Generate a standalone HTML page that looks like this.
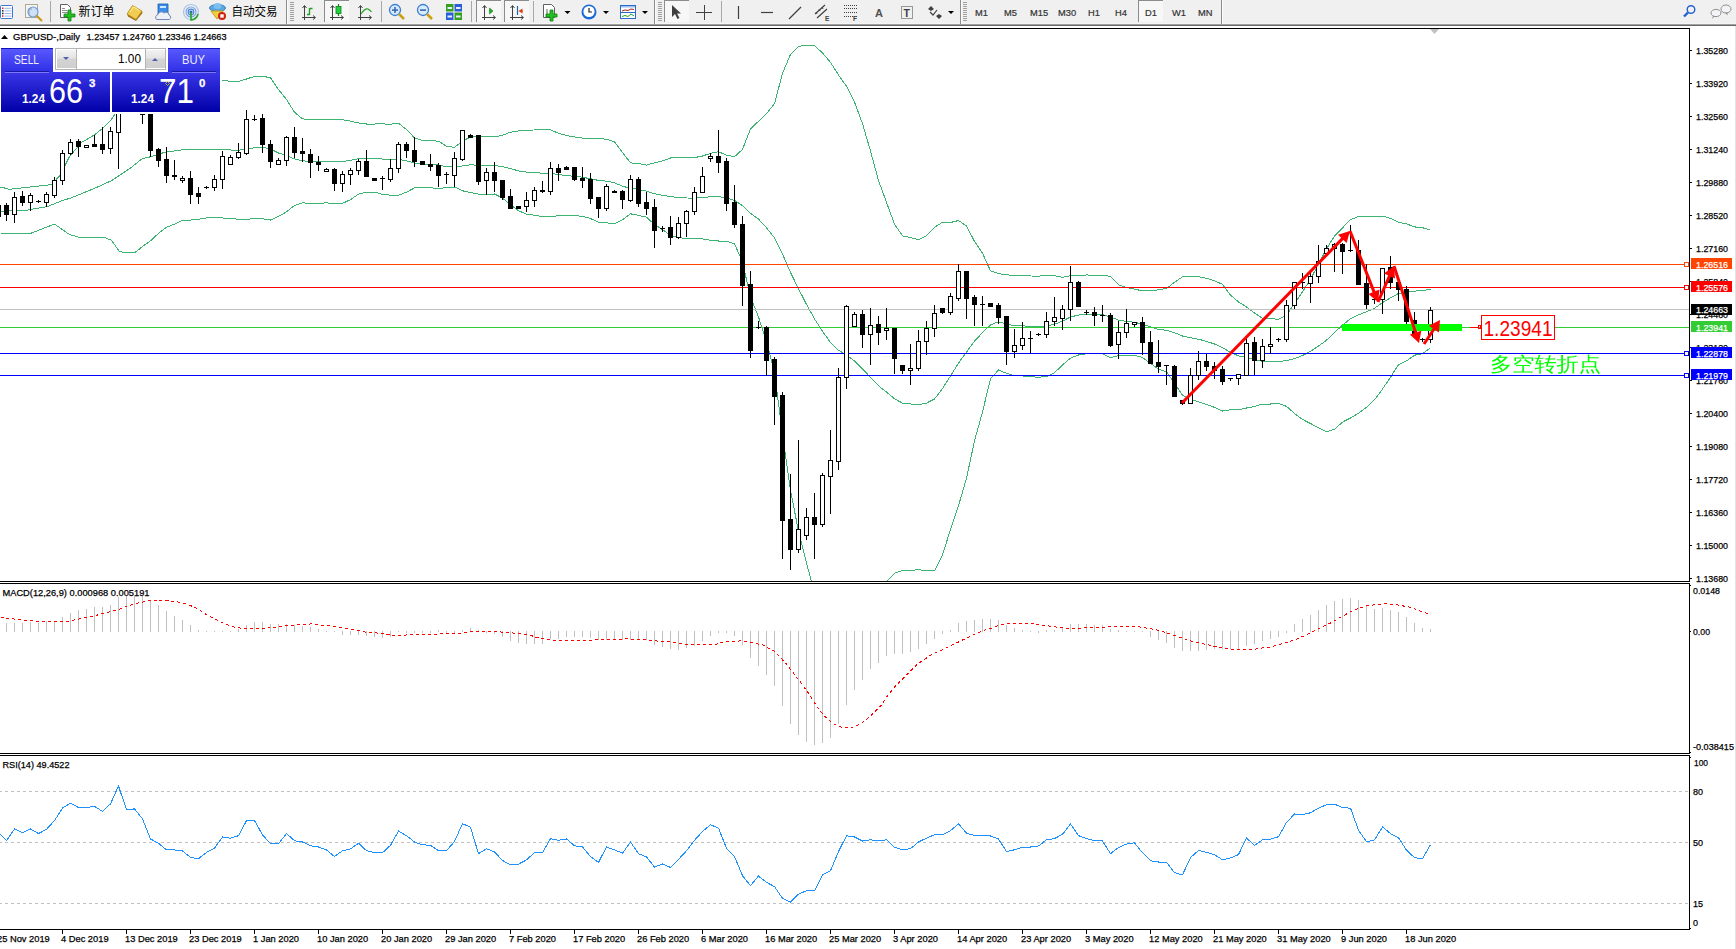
<!DOCTYPE html>
<html><head><meta charset="utf-8"><style>
html,body{margin:0;padding:0;background:#fff;}
body{width:1736px;height:949px;overflow:hidden;position:relative;font-family:"Liberation Sans", "Noto Sans CJK SC", sans-serif;}
svg{position:absolute;left:0;top:0;font-family:"Liberation Sans", "Noto Sans CJK SC", sans-serif;}
</style></head><body>
<svg width="1736" height="949" viewBox="0 0 1736 949">
<defs><clipPath id="clipMain"><rect x="0" y="29" width="1689" height="552"/></clipPath>
<clipPath id="clipRsi"><rect x="0" y="756" width="1689" height="173"/></clipPath></defs>
<rect x="0" y="0" width="1736" height="949" fill="#fff"/>
<g shape-rendering="crispEdges">
<rect x="0" y="28" width="1690" height="1" fill="#000" />
<rect x="0" y="581" width="1690" height="1" fill="#000" />
<rect x="1689" y="28" width="1" height="554" fill="#000" />
<rect x="0" y="583" width="1690" height="1" fill="#000" />
<rect x="0" y="753" width="1690" height="1" fill="#000" />
<rect x="1689" y="583" width="1" height="171" fill="#000" />
<rect x="0" y="755" width="1690" height="1" fill="#000" />
<rect x="0" y="929" width="1690" height="1" fill="#000" />
<rect x="1689" y="755" width="1" height="175" fill="#000" />
<rect x="1735" y="26" width="1" height="923" fill="#e3e3e3" />
</g>
<g clip-path="url(#clipMain)" shape-rendering="crispEdges">
<polyline points="0.5,187.0 9.5,189.3 30.5,187.0 51.5,184.6 60.5,174.9 69.5,156.4 81.5,142.5 93.5,135.5 102.5,128.5 111.5,119.3 115.5,113.5 125.5,95.5 140.5,78.5 150.5,72.8 158.5,74.6 166.5,76.8 174.5,77.8 182.5,79.3 190.5,79.4 198.5,79.8 206.5,80.3 214.5,80.4 222.5,80.5 230.5,81.2 238.5,81.5 246.5,79.0 254.5,76.4 262.5,76.2 270.5,77.8 278.5,89.6 286.5,99.4 294.5,112.3 302.5,118.8 310.5,119.7 318.5,119.9 326.5,119.9 334.5,119.7 342.5,119.7 350.5,121.1 358.5,123.0 366.5,124.0 374.5,124.0 382.5,123.9 390.5,124.2 398.5,123.3 406.5,129.5 414.5,137.9 422.5,140.5 430.5,140.8 438.5,141.1 446.5,146.2 454.5,147.3 462.5,141.2 470.5,136.9 478.5,136.8 486.5,136.8 494.5,137.0 502.5,135.2 510.5,132.2 518.5,130.9 526.5,130.1 534.5,130.0 542.5,129.9 550.5,129.9 558.5,133.3 566.5,135.5 574.5,137.0 582.5,138.1 590.5,139.0 598.5,138.6 606.5,139.2 614.5,141.9 622.5,152.5 630.5,162.9 638.5,163.4 646.5,165.1 654.5,162.8 662.5,160.8 670.5,158.0 678.5,157.3 686.5,157.4 694.5,157.6 702.5,156.0 710.5,153.4 718.5,151.7 726.5,155.1 734.5,156.7 742.5,149.4 750.5,128.9 758.5,121.3 766.5,113.7 774.5,103.6 782.5,73.4 790.5,54.3 798.5,46.3 806.5,45.4 814.5,45.5 822.5,53.0 830.5,62.3 838.5,75.0 846.5,86.3 854.5,102.0 862.5,123.6 870.5,151.0 878.5,180.5 886.5,202.4 894.5,224.2 902.5,235.8 910.5,237.7 918.5,239.6 926.5,235.8 934.5,227.2 942.5,222.3 950.5,222.5 958.5,220.5 966.5,226.0 974.5,241.4 982.5,253.2 990.5,270.9 998.5,273.6 1006.5,274.8 1014.5,275.6 1022.5,275.7 1030.5,276.0 1038.5,276.1 1046.5,275.7 1054.5,275.7 1062.5,277.4 1070.5,275.7 1078.5,275.3 1086.5,275.0 1094.5,275.1 1102.5,275.3 1110.5,276.4 1118.5,284.7 1126.5,287.4 1134.5,289.1 1142.5,290.9 1150.5,290.8 1158.5,289.8 1166.5,288.5 1174.5,282.3 1182.5,276.8 1190.5,276.1 1198.5,276.6 1206.5,278.3 1214.5,280.7 1222.5,284.3 1230.5,295.1 1238.5,302.0 1246.5,306.9 1254.5,312.9 1262.5,318.5 1270.5,318.4 1278.5,319.5 1286.5,314.9 1294.5,303.8 1302.5,291.9 1310.5,279.1 1318.5,264.3 1326.5,248.8 1334.5,236.0 1342.5,227.9 1350.5,219.5 1358.5,216.6 1366.5,216.4 1374.5,216.7 1382.5,216.1 1390.5,218.3 1398.5,222.4 1406.5,223.8 1414.5,226.9 1422.5,227.7 1430.5,230.2" fill="none" stroke="#3cb371" stroke-width="1" />
<polyline points="0.5,211.1 25.5,210.6 35.5,208.6 47.5,206.5 62.5,200.5 70.5,198.1 93.5,188.8 111.5,180.7 130.5,168.0 142.5,158.5 150.5,156.8 158.5,154.0 166.5,152.0 174.5,151.0 182.5,149.8 190.5,149.7 198.5,149.5 206.5,149.1 214.5,149.1 222.5,149.2 230.5,150.0 238.5,150.3 246.5,149.0 254.5,147.7 262.5,147.4 270.5,148.9 278.5,153.0 286.5,155.6 294.5,158.9 302.5,160.8 310.5,161.5 318.5,161.7 326.5,161.4 334.5,161.7 342.5,161.5 350.5,160.4 358.5,158.6 366.5,158.0 374.5,158.0 382.5,159.1 390.5,159.7 398.5,159.3 406.5,160.9 414.5,162.9 422.5,164.0 430.5,164.2 438.5,165.0 446.5,166.8 454.5,167.1 462.5,166.0 470.5,164.7 478.5,165.5 486.5,165.7 494.5,165.5 502.5,166.7 510.5,168.5 518.5,170.9 526.5,172.1 534.5,172.6 542.5,173.2 550.5,173.2 558.5,174.6 566.5,175.5 574.5,176.4 582.5,177.2 590.5,178.8 598.5,180.4 606.5,181.1 614.5,182.8 622.5,186.2 630.5,188.3 638.5,189.4 646.5,191.2 654.5,193.7 662.5,195.2 670.5,196.7 678.5,197.5 686.5,198.0 694.5,198.1 702.5,197.4 710.5,196.8 718.5,196.4 726.5,198.1 734.5,200.3 742.5,205.6 750.5,213.2 758.5,219.1 766.5,227.8 774.5,237.9 782.5,254.0 790.5,272.4 798.5,288.8 806.5,304.3 814.5,318.9 822.5,331.3 830.5,342.5 838.5,350.2 846.5,354.9 854.5,361.0 862.5,368.9 870.5,377.4 878.5,385.8 886.5,392.1 894.5,398.8 902.5,403.1 910.5,404.0 918.5,404.7 926.5,403.1 934.5,399.0 942.5,388.6 950.5,376.0 958.5,363.1 966.5,352.1 974.5,341.1 982.5,332.6 990.5,324.9 998.5,321.8 1006.5,324.1 1014.5,325.6 1022.5,325.8 1030.5,326.4 1038.5,326.6 1046.5,326.2 1054.5,324.2 1062.5,321.2 1070.5,316.9 1078.5,315.1 1086.5,314.3 1094.5,314.4 1102.5,314.6 1110.5,317.0 1118.5,320.1 1126.5,321.4 1134.5,322.3 1142.5,324.2 1150.5,327.0 1158.5,329.5 1166.5,330.2 1174.5,332.7 1182.5,336.0 1190.5,337.8 1198.5,339.2 1206.5,341.4 1214.5,344.0 1222.5,347.6 1230.5,352.4 1238.5,355.9 1246.5,357.4 1254.5,359.7 1262.5,361.2 1270.5,361.2 1278.5,361.5 1286.5,360.6 1294.5,358.6 1302.5,355.6 1310.5,351.3 1318.5,346.1 1326.5,340.2 1334.5,332.6 1342.5,325.0 1350.5,318.8 1358.5,314.9 1366.5,311.8 1374.5,308.3 1382.5,302.6 1390.5,297.8 1398.5,293.5 1406.5,292.4 1414.5,291.1 1422.5,290.7 1430.5,289.0" fill="none" stroke="#3cb371" stroke-width="1" />
<polyline points="0.5,233.0 31.5,233.0 54.5,224.1 69.5,234.5 78.5,237.1 91.5,237.6 105.5,237.9 111.5,240.2 119.5,251.8 134.5,252.9 142.5,246.5 150.5,240.8 158.5,233.4 166.5,227.2 174.5,224.2 182.5,220.3 190.5,220.1 198.5,219.2 206.5,217.9 214.5,217.8 222.5,218.0 230.5,218.8 238.5,219.1 246.5,219.1 254.5,218.9 262.5,218.7 270.5,220.0 278.5,216.5 286.5,211.8 294.5,205.4 302.5,202.9 310.5,203.2 318.5,203.5 326.5,202.8 334.5,203.8 342.5,203.4 350.5,199.6 358.5,194.1 366.5,192.1 374.5,192.1 382.5,194.4 390.5,195.2 398.5,195.3 406.5,192.2 414.5,187.9 422.5,187.4 430.5,187.7 438.5,188.8 446.5,187.4 454.5,187.0 462.5,190.8 470.5,192.5 478.5,194.2 486.5,194.5 494.5,194.0 502.5,198.1 510.5,204.8 518.5,210.8 526.5,214.1 534.5,215.3 542.5,216.5 550.5,216.5 558.5,215.8 566.5,215.4 574.5,215.8 582.5,216.2 590.5,218.5 598.5,222.3 606.5,222.9 614.5,223.6 622.5,219.9 630.5,213.8 638.5,215.4 646.5,217.2 654.5,224.5 662.5,229.6 670.5,235.3 678.5,237.6 686.5,238.6 694.5,238.6 702.5,238.9 710.5,240.3 718.5,241.0 726.5,241.0 734.5,243.9 742.5,261.8 750.5,297.4 758.5,316.9 766.5,341.9 774.5,372.2 782.5,434.6 790.5,490.6 798.5,531.2 806.5,563.2 814.5,592.3 822.5,609.5 830.5,622.7 838.5,625.3 846.5,623.5 854.5,620.0 862.5,614.3 870.5,603.8 878.5,591.2 886.5,581.9 894.5,573.3 902.5,570.3 910.5,570.3 918.5,569.8 926.5,570.4 934.5,570.8 942.5,554.9 950.5,529.5 958.5,505.7 966.5,478.2 974.5,440.9 982.5,412.0 990.5,378.8 998.5,370.0 1006.5,373.3 1014.5,375.6 1022.5,375.9 1030.5,376.9 1038.5,377.1 1046.5,376.8 1054.5,372.7 1062.5,365.0 1070.5,358.1 1078.5,355.0 1086.5,353.7 1094.5,353.8 1102.5,353.9 1110.5,357.7 1118.5,355.5 1126.5,355.4 1134.5,355.4 1142.5,357.5 1150.5,363.3 1158.5,369.2 1166.5,371.9 1174.5,383.2 1182.5,395.2 1190.5,399.5 1198.5,401.7 1206.5,404.5 1214.5,407.4 1222.5,411.0 1230.5,409.8 1238.5,409.8 1246.5,408.0 1254.5,406.5 1262.5,404.0 1270.5,404.0 1278.5,403.5 1286.5,406.4 1294.5,413.4 1302.5,419.4 1310.5,423.5 1318.5,427.9 1326.5,431.7 1334.5,429.3 1342.5,422.1 1350.5,418.0 1358.5,413.2 1366.5,407.2 1374.5,399.8 1382.5,389.1 1390.5,377.2 1398.5,364.6 1406.5,360.9 1414.5,355.2 1422.5,353.7 1430.5,347.7" fill="none" stroke="#3cb371" stroke-width="1" />
</g>
<g shape-rendering="crispEdges">
<rect x="0" y="264" width="1684" height="1" fill="#ff4500" />
<rect x="1684.5" y="262.5" width="4" height="4" fill="none" stroke="#ff4500" stroke-width="1"/>
<rect x="0" y="287" width="1684" height="1" fill="#ff0000" />
<rect x="1684.5" y="285.5" width="4" height="4" fill="none" stroke="#ff0000" stroke-width="1"/>
<rect x="0" y="309" width="1689" height="1" fill="#c0c0c0" />
<rect x="0" y="327" width="1689" height="1" fill="#32cd32" />
<rect x="0" y="353" width="1684" height="1" fill="#0000ff" />
<rect x="1684.5" y="351.5" width="4" height="4" fill="none" stroke="#0000ff" stroke-width="1"/>
<rect x="0" y="375" width="1684" height="1" fill="#0000ff" />
<rect x="1684.5" y="373.5" width="4" height="4" fill="none" stroke="#0000ff" stroke-width="1"/>
</g>
<g shape-rendering="crispEdges">
<rect x="-2" y="203" width="1" height="18" fill="#000" />
<rect x="-4" y="205" width="5" height="12" fill="#000" />
<rect x="6" y="203" width="1" height="18" fill="#000" />
<rect x="4" y="205" width="5" height="10" fill="#000" />
<rect x="14" y="192" width="1" height="31" fill="#000" />
<rect x="12" y="197" width="5" height="18" fill="#000" />
<rect x="13" y="198" width="3" height="16" fill="#fff" />
<rect x="22" y="191" width="1" height="15" fill="#000" />
<rect x="20" y="196" width="5" height="7" fill="#000" />
<rect x="30" y="193" width="1" height="18" fill="#000" />
<rect x="28" y="195" width="5" height="8" fill="#000" />
<rect x="29" y="196" width="3" height="6" fill="#fff" />
<rect x="38" y="200" width="1" height="3" fill="#000" />
<rect x="36" y="201" width="5" height="1" fill="#000" />
<rect x="46" y="192" width="1" height="15" fill="#000" />
<rect x="44" y="194" width="5" height="9" fill="#000" />
<rect x="45" y="195" width="3" height="7" fill="#fff" />
<rect x="54" y="177" width="1" height="21" fill="#000" />
<rect x="52" y="180" width="5" height="16" fill="#000" />
<rect x="53" y="181" width="3" height="14" fill="#fff" />
<rect x="62" y="150" width="1" height="35" fill="#000" />
<rect x="60" y="153" width="5" height="28" fill="#000" />
<rect x="61" y="154" width="3" height="26" fill="#fff" />
<rect x="70" y="139" width="1" height="16" fill="#000" />
<rect x="68" y="142" width="5" height="12" fill="#000" />
<rect x="69" y="143" width="3" height="10" fill="#fff" />
<rect x="78" y="139" width="1" height="18" fill="#000" />
<rect x="76" y="141" width="5" height="6" fill="#000" />
<rect x="86" y="145" width="1" height="3" fill="#000" />
<rect x="84" y="145" width="5" height="3" fill="#000" />
<rect x="85" y="146" width="3" height="1" fill="#fff" />
<rect x="94" y="135" width="1" height="12" fill="#000" />
<rect x="92" y="144" width="5" height="3" fill="#000" />
<rect x="102" y="127" width="1" height="27" fill="#000" />
<rect x="100" y="144" width="5" height="6" fill="#000" />
<rect x="110" y="127" width="1" height="27" fill="#000" />
<rect x="108" y="131" width="5" height="18" fill="#000" />
<rect x="109" y="132" width="3" height="16" fill="#fff" />
<rect x="118" y="95" width="1" height="74" fill="#000" />
<rect x="116" y="100" width="5" height="33" fill="#000" />
<rect x="117" y="101" width="3" height="31" fill="#fff" />
<rect x="126" y="50" width="1" height="56" fill="#000" />
<rect x="124" y="80" width="5" height="21" fill="#000" />
<rect x="125" y="81" width="3" height="19" fill="#fff" />
<rect x="134" y="79" width="1" height="6" fill="#000" />
<rect x="132" y="80" width="5" height="3" fill="#000" />
<rect x="142" y="80" width="1" height="44" fill="#000" />
<rect x="140" y="84" width="5" height="31" fill="#000" />
<rect x="150" y="84" width="1" height="73" fill="#000" />
<rect x="148" y="86" width="5" height="65" fill="#000" />
<rect x="158" y="148" width="1" height="19" fill="#000" />
<rect x="156" y="149" width="5" height="12" fill="#000" />
<rect x="166" y="147" width="1" height="36" fill="#000" />
<rect x="164" y="159" width="5" height="17" fill="#000" />
<rect x="174" y="160" width="1" height="20" fill="#000" />
<rect x="172" y="175" width="5" height="2" fill="#000" />
<rect x="182" y="176" width="1" height="7" fill="#000" />
<rect x="180" y="178" width="5" height="3" fill="#000" />
<rect x="181" y="179" width="3" height="1" fill="#fff" />
<rect x="190" y="171" width="1" height="33" fill="#000" />
<rect x="188" y="178" width="5" height="17" fill="#000" />
<rect x="198" y="187" width="1" height="17" fill="#000" />
<rect x="196" y="193" width="5" height="4" fill="#000" />
<rect x="206" y="186" width="1" height="3" fill="#000" />
<rect x="204" y="187" width="5" height="1" fill="#000" />
<rect x="214" y="175" width="1" height="16" fill="#000" />
<rect x="212" y="179" width="5" height="9" fill="#000" />
<rect x="213" y="180" width="3" height="7" fill="#fff" />
<rect x="222" y="151" width="1" height="38" fill="#000" />
<rect x="220" y="156" width="5" height="24" fill="#000" />
<rect x="221" y="157" width="3" height="22" fill="#fff" />
<rect x="230" y="155" width="1" height="10" fill="#000" />
<rect x="228" y="157" width="5" height="8" fill="#000" />
<rect x="229" y="158" width="3" height="6" fill="#fff" />
<rect x="238" y="143" width="1" height="16" fill="#000" />
<rect x="236" y="152" width="5" height="6" fill="#000" />
<rect x="237" y="153" width="3" height="4" fill="#fff" />
<rect x="246" y="110" width="1" height="45" fill="#000" />
<rect x="244" y="119" width="5" height="35" fill="#000" />
<rect x="245" y="120" width="3" height="33" fill="#fff" />
<rect x="254" y="115" width="1" height="6" fill="#000" />
<rect x="252" y="119" width="5" height="1" fill="#000" />
<rect x="262" y="114" width="1" height="39" fill="#000" />
<rect x="260" y="118" width="5" height="27" fill="#000" />
<rect x="270" y="140" width="1" height="28" fill="#000" />
<rect x="268" y="144" width="5" height="18" fill="#000" />
<rect x="278" y="158" width="1" height="7" fill="#000" />
<rect x="276" y="160" width="5" height="5" fill="#000" />
<rect x="277" y="161" width="3" height="3" fill="#fff" />
<rect x="286" y="136" width="1" height="30" fill="#000" />
<rect x="284" y="137" width="5" height="24" fill="#000" />
<rect x="285" y="138" width="3" height="22" fill="#fff" />
<rect x="294" y="127" width="1" height="31" fill="#000" />
<rect x="292" y="137" width="5" height="16" fill="#000" />
<rect x="302" y="138" width="1" height="24" fill="#000" />
<rect x="300" y="151" width="5" height="3" fill="#000" />
<rect x="310" y="149" width="1" height="29" fill="#000" />
<rect x="308" y="154" width="5" height="9" fill="#000" />
<rect x="318" y="156" width="1" height="15" fill="#000" />
<rect x="316" y="162" width="5" height="3" fill="#000" />
<rect x="326" y="168" width="1" height="4" fill="#000" />
<rect x="324" y="169" width="5" height="3" fill="#000" />
<rect x="325" y="170" width="3" height="1" fill="#fff" />
<rect x="334" y="168" width="1" height="23" fill="#000" />
<rect x="332" y="169" width="5" height="15" fill="#000" />
<rect x="342" y="171" width="1" height="21" fill="#000" />
<rect x="340" y="174" width="5" height="10" fill="#000" />
<rect x="341" y="175" width="3" height="8" fill="#fff" />
<rect x="350" y="168" width="1" height="17" fill="#000" />
<rect x="348" y="170" width="5" height="5" fill="#000" />
<rect x="349" y="171" width="3" height="3" fill="#fff" />
<rect x="358" y="159" width="1" height="16" fill="#000" />
<rect x="356" y="161" width="5" height="10" fill="#000" />
<rect x="357" y="162" width="3" height="8" fill="#fff" />
<rect x="366" y="150" width="1" height="27" fill="#000" />
<rect x="364" y="161" width="5" height="16" fill="#000" />
<rect x="374" y="178" width="1" height="3" fill="#000" />
<rect x="372" y="178" width="5" height="3" fill="#000" />
<rect x="382" y="176" width="1" height="14" fill="#000" />
<rect x="380" y="178" width="5" height="1" fill="#000" />
<rect x="390" y="159" width="1" height="23" fill="#000" />
<rect x="388" y="168" width="5" height="12" fill="#000" />
<rect x="389" y="169" width="3" height="10" fill="#fff" />
<rect x="398" y="142" width="1" height="31" fill="#000" />
<rect x="396" y="144" width="5" height="25" fill="#000" />
<rect x="397" y="145" width="3" height="23" fill="#fff" />
<rect x="406" y="142" width="1" height="16" fill="#000" />
<rect x="404" y="144" width="5" height="7" fill="#000" />
<rect x="414" y="137" width="1" height="30" fill="#000" />
<rect x="412" y="150" width="5" height="12" fill="#000" />
<rect x="422" y="161" width="1" height="4" fill="#000" />
<rect x="420" y="161" width="5" height="4" fill="#000" />
<rect x="430" y="154" width="1" height="17" fill="#000" />
<rect x="428" y="164" width="5" height="3" fill="#000" />
<rect x="438" y="163" width="1" height="24" fill="#000" />
<rect x="436" y="165" width="5" height="11" fill="#000" />
<rect x="446" y="172" width="1" height="12" fill="#000" />
<rect x="444" y="174" width="5" height="1" fill="#000" />
<rect x="454" y="152" width="1" height="35" fill="#000" />
<rect x="452" y="158" width="5" height="18" fill="#000" />
<rect x="453" y="159" width="3" height="16" fill="#fff" />
<rect x="462" y="130" width="1" height="31" fill="#000" />
<rect x="460" y="130" width="5" height="30" fill="#000" />
<rect x="461" y="131" width="3" height="28" fill="#fff" />
<rect x="470" y="134" width="1" height="4" fill="#000" />
<rect x="468" y="135" width="5" height="3" fill="#000" />
<rect x="478" y="135" width="1" height="50" fill="#000" />
<rect x="476" y="135" width="5" height="47" fill="#000" />
<rect x="486" y="168" width="1" height="27" fill="#000" />
<rect x="484" y="172" width="5" height="9" fill="#000" />
<rect x="485" y="173" width="3" height="7" fill="#fff" />
<rect x="494" y="162" width="1" height="30" fill="#000" />
<rect x="492" y="172" width="5" height="9" fill="#000" />
<rect x="502" y="180" width="1" height="20" fill="#000" />
<rect x="500" y="180" width="5" height="18" fill="#000" />
<rect x="510" y="189" width="1" height="20" fill="#000" />
<rect x="508" y="196" width="5" height="13" fill="#000" />
<rect x="518" y="206" width="1" height="3" fill="#000" />
<rect x="516" y="206" width="5" height="3" fill="#000" />
<rect x="526" y="192" width="1" height="20" fill="#000" />
<rect x="524" y="200" width="5" height="7" fill="#000" />
<rect x="525" y="201" width="3" height="5" fill="#fff" />
<rect x="534" y="187" width="1" height="20" fill="#000" />
<rect x="532" y="190" width="5" height="11" fill="#000" />
<rect x="533" y="191" width="3" height="9" fill="#fff" />
<rect x="542" y="181" width="1" height="12" fill="#000" />
<rect x="540" y="190" width="5" height="2" fill="#000" />
<rect x="550" y="162" width="1" height="33" fill="#000" />
<rect x="548" y="168" width="5" height="24" fill="#000" />
<rect x="549" y="169" width="3" height="22" fill="#fff" />
<rect x="558" y="164" width="1" height="17" fill="#000" />
<rect x="556" y="168" width="5" height="5" fill="#000" />
<rect x="566" y="166" width="1" height="4" fill="#000" />
<rect x="564" y="167" width="5" height="3" fill="#000" />
<rect x="574" y="167" width="1" height="14" fill="#000" />
<rect x="572" y="167" width="5" height="13" fill="#000" />
<rect x="582" y="167" width="1" height="21" fill="#000" />
<rect x="580" y="178" width="5" height="3" fill="#000" />
<rect x="590" y="173" width="1" height="31" fill="#000" />
<rect x="588" y="179" width="5" height="20" fill="#000" />
<rect x="598" y="197" width="1" height="21" fill="#000" />
<rect x="596" y="197" width="5" height="12" fill="#000" />
<rect x="606" y="184" width="1" height="27" fill="#000" />
<rect x="604" y="186" width="5" height="23" fill="#000" />
<rect x="605" y="187" width="3" height="21" fill="#fff" />
<rect x="614" y="190" width="1" height="3" fill="#000" />
<rect x="612" y="191" width="5" height="2" fill="#000" />
<rect x="622" y="190" width="1" height="19" fill="#000" />
<rect x="620" y="191" width="5" height="9" fill="#000" />
<rect x="630" y="175" width="1" height="27" fill="#000" />
<rect x="628" y="179" width="5" height="22" fill="#000" />
<rect x="629" y="180" width="3" height="20" fill="#fff" />
<rect x="638" y="177" width="1" height="30" fill="#000" />
<rect x="636" y="179" width="5" height="25" fill="#000" />
<rect x="646" y="192" width="1" height="23" fill="#000" />
<rect x="644" y="202" width="5" height="7" fill="#000" />
<rect x="654" y="199" width="1" height="49" fill="#000" />
<rect x="652" y="207" width="5" height="24" fill="#000" />
<rect x="662" y="226" width="1" height="6" fill="#000" />
<rect x="660" y="228" width="5" height="1" fill="#000" />
<rect x="670" y="216" width="1" height="29" fill="#000" />
<rect x="668" y="227" width="5" height="11" fill="#000" />
<rect x="678" y="217" width="1" height="22" fill="#000" />
<rect x="676" y="223" width="5" height="15" fill="#000" />
<rect x="677" y="224" width="3" height="13" fill="#fff" />
<rect x="686" y="210" width="1" height="27" fill="#000" />
<rect x="684" y="211" width="5" height="13" fill="#000" />
<rect x="685" y="212" width="3" height="11" fill="#fff" />
<rect x="694" y="187" width="1" height="28" fill="#000" />
<rect x="692" y="192" width="5" height="20" fill="#000" />
<rect x="693" y="193" width="3" height="18" fill="#fff" />
<rect x="702" y="167" width="1" height="26" fill="#000" />
<rect x="700" y="176" width="5" height="17" fill="#000" />
<rect x="701" y="177" width="3" height="15" fill="#fff" />
<rect x="710" y="153" width="1" height="9" fill="#000" />
<rect x="708" y="156" width="5" height="3" fill="#000" />
<rect x="709" y="157" width="3" height="1" fill="#fff" />
<rect x="718" y="130" width="1" height="43" fill="#000" />
<rect x="716" y="156" width="5" height="7" fill="#000" />
<rect x="726" y="158" width="1" height="53" fill="#000" />
<rect x="724" y="161" width="5" height="43" fill="#000" />
<rect x="734" y="185" width="1" height="43" fill="#000" />
<rect x="732" y="202" width="5" height="23" fill="#000" />
<rect x="742" y="216" width="1" height="90" fill="#000" />
<rect x="740" y="224" width="5" height="62" fill="#000" />
<rect x="750" y="271" width="1" height="87" fill="#000" />
<rect x="748" y="284" width="5" height="67" fill="#000" />
<rect x="758" y="321" width="1" height="8" fill="#000" />
<rect x="756" y="327" width="5" height="1" fill="#000" />
<rect x="766" y="326" width="1" height="50" fill="#000" />
<rect x="764" y="327" width="5" height="34" fill="#000" />
<rect x="774" y="357" width="1" height="68" fill="#000" />
<rect x="772" y="359" width="5" height="38" fill="#000" />
<rect x="782" y="392" width="1" height="167" fill="#000" />
<rect x="780" y="395" width="5" height="126" fill="#000" />
<rect x="790" y="474" width="1" height="96" fill="#000" />
<rect x="788" y="519" width="5" height="31" fill="#000" />
<rect x="798" y="440" width="1" height="113" fill="#000" />
<rect x="796" y="529" width="5" height="21" fill="#000" />
<rect x="797" y="530" width="3" height="19" fill="#fff" />
<rect x="806" y="508" width="1" height="32" fill="#000" />
<rect x="804" y="517" width="5" height="19" fill="#000" />
<rect x="805" y="518" width="3" height="17" fill="#fff" />
<rect x="814" y="493" width="1" height="66" fill="#000" />
<rect x="812" y="517" width="5" height="8" fill="#000" />
<rect x="822" y="473" width="1" height="54" fill="#000" />
<rect x="820" y="475" width="5" height="50" fill="#000" />
<rect x="821" y="476" width="3" height="48" fill="#fff" />
<rect x="830" y="430" width="1" height="84" fill="#000" />
<rect x="828" y="460" width="5" height="17" fill="#000" />
<rect x="829" y="461" width="3" height="15" fill="#fff" />
<rect x="838" y="368" width="1" height="102" fill="#000" />
<rect x="836" y="377" width="5" height="85" fill="#000" />
<rect x="837" y="378" width="3" height="83" fill="#fff" />
<rect x="846" y="305" width="1" height="84" fill="#000" />
<rect x="844" y="306" width="5" height="72" fill="#000" />
<rect x="845" y="307" width="3" height="70" fill="#fff" />
<rect x="854" y="312" width="1" height="15" fill="#000" />
<rect x="852" y="314" width="5" height="13" fill="#000" />
<rect x="853" y="315" width="3" height="11" fill="#fff" />
<rect x="862" y="310" width="1" height="38" fill="#000" />
<rect x="860" y="314" width="5" height="21" fill="#000" />
<rect x="870" y="308" width="1" height="57" fill="#000" />
<rect x="868" y="325" width="5" height="10" fill="#000" />
<rect x="869" y="326" width="3" height="8" fill="#fff" />
<rect x="878" y="316" width="1" height="29" fill="#000" />
<rect x="876" y="324" width="5" height="9" fill="#000" />
<rect x="886" y="308" width="1" height="32" fill="#000" />
<rect x="884" y="328" width="5" height="3" fill="#000" />
<rect x="885" y="329" width="3" height="1" fill="#fff" />
<rect x="894" y="328" width="1" height="46" fill="#000" />
<rect x="892" y="328" width="5" height="31" fill="#000" />
<rect x="902" y="365" width="1" height="9" fill="#000" />
<rect x="900" y="365" width="5" height="6" fill="#000" />
<rect x="910" y="344" width="1" height="41" fill="#000" />
<rect x="908" y="368" width="5" height="3" fill="#000" />
<rect x="909" y="369" width="3" height="1" fill="#fff" />
<rect x="918" y="330" width="1" height="41" fill="#000" />
<rect x="916" y="341" width="5" height="28" fill="#000" />
<rect x="917" y="342" width="3" height="26" fill="#fff" />
<rect x="926" y="321" width="1" height="34" fill="#000" />
<rect x="924" y="328" width="5" height="14" fill="#000" />
<rect x="925" y="329" width="3" height="12" fill="#fff" />
<rect x="934" y="305" width="1" height="32" fill="#000" />
<rect x="932" y="313" width="5" height="16" fill="#000" />
<rect x="933" y="314" width="3" height="14" fill="#fff" />
<rect x="942" y="308" width="1" height="6" fill="#000" />
<rect x="940" y="308" width="5" height="5" fill="#000" />
<rect x="950" y="293" width="1" height="22" fill="#000" />
<rect x="948" y="296" width="5" height="17" fill="#000" />
<rect x="949" y="297" width="3" height="15" fill="#fff" />
<rect x="958" y="264" width="1" height="37" fill="#000" />
<rect x="956" y="271" width="5" height="28" fill="#000" />
<rect x="957" y="272" width="3" height="26" fill="#fff" />
<rect x="966" y="271" width="1" height="48" fill="#000" />
<rect x="964" y="271" width="5" height="28" fill="#000" />
<rect x="974" y="295" width="1" height="31" fill="#000" />
<rect x="972" y="297" width="5" height="8" fill="#000" />
<rect x="982" y="296" width="1" height="30" fill="#000" />
<rect x="980" y="304" width="5" height="1" fill="#000" />
<rect x="990" y="303" width="1" height="4" fill="#000" />
<rect x="988" y="303" width="5" height="4" fill="#000" />
<rect x="998" y="303" width="1" height="21" fill="#000" />
<rect x="996" y="305" width="5" height="13" fill="#000" />
<rect x="1006" y="316" width="1" height="49" fill="#000" />
<rect x="1004" y="316" width="5" height="36" fill="#000" />
<rect x="1014" y="329" width="1" height="29" fill="#000" />
<rect x="1012" y="345" width="5" height="7" fill="#000" />
<rect x="1013" y="346" width="3" height="5" fill="#fff" />
<rect x="1022" y="322" width="1" height="28" fill="#000" />
<rect x="1020" y="338" width="5" height="8" fill="#000" />
<rect x="1021" y="339" width="3" height="6" fill="#fff" />
<rect x="1030" y="331" width="1" height="22" fill="#000" />
<rect x="1028" y="338" width="5" height="1" fill="#000" />
<rect x="1038" y="333" width="1" height="3" fill="#000" />
<rect x="1036" y="334" width="5" height="1" fill="#000" />
<rect x="1046" y="312" width="1" height="26" fill="#000" />
<rect x="1044" y="321" width="5" height="14" fill="#000" />
<rect x="1045" y="322" width="3" height="12" fill="#fff" />
<rect x="1054" y="297" width="1" height="29" fill="#000" />
<rect x="1052" y="317" width="5" height="5" fill="#000" />
<rect x="1053" y="318" width="3" height="3" fill="#fff" />
<rect x="1062" y="305" width="1" height="25" fill="#000" />
<rect x="1060" y="309" width="5" height="10" fill="#000" />
<rect x="1061" y="310" width="3" height="8" fill="#fff" />
<rect x="1070" y="266" width="1" height="55" fill="#000" />
<rect x="1068" y="282" width="5" height="28" fill="#000" />
<rect x="1069" y="283" width="3" height="26" fill="#fff" />
<rect x="1078" y="281" width="1" height="26" fill="#000" />
<rect x="1076" y="282" width="5" height="25" fill="#000" />
<rect x="1086" y="310" width="1" height="5" fill="#000" />
<rect x="1084" y="312" width="5" height="1" fill="#000" />
<rect x="1094" y="307" width="1" height="19" fill="#000" />
<rect x="1092" y="312" width="5" height="4" fill="#000" />
<rect x="1102" y="305" width="1" height="17" fill="#000" />
<rect x="1100" y="315" width="5" height="1" fill="#000" />
<rect x="1110" y="313" width="1" height="34" fill="#000" />
<rect x="1108" y="315" width="5" height="31" fill="#000" />
<rect x="1118" y="321" width="1" height="38" fill="#000" />
<rect x="1116" y="332" width="5" height="13" fill="#000" />
<rect x="1117" y="333" width="3" height="11" fill="#fff" />
<rect x="1126" y="309" width="1" height="29" fill="#000" />
<rect x="1124" y="323" width="5" height="10" fill="#000" />
<rect x="1125" y="324" width="3" height="8" fill="#fff" />
<rect x="1134" y="322" width="1" height="5" fill="#000" />
<rect x="1132" y="322" width="5" height="3" fill="#000" />
<rect x="1133" y="323" width="3" height="1" fill="#fff" />
<rect x="1142" y="317" width="1" height="38" fill="#000" />
<rect x="1140" y="322" width="5" height="21" fill="#000" />
<rect x="1150" y="331" width="1" height="33" fill="#000" />
<rect x="1148" y="342" width="5" height="22" fill="#000" />
<rect x="1158" y="340" width="1" height="33" fill="#000" />
<rect x="1156" y="362" width="5" height="5" fill="#000" />
<rect x="1166" y="365" width="1" height="20" fill="#000" />
<rect x="1164" y="365" width="5" height="1" fill="#000" />
<rect x="1174" y="365" width="1" height="32" fill="#000" />
<rect x="1172" y="366" width="5" height="31" fill="#000" />
<rect x="1182" y="400" width="1" height="5" fill="#000" />
<rect x="1180" y="400" width="5" height="4" fill="#000" />
<rect x="1190" y="368" width="1" height="36" fill="#000" />
<rect x="1188" y="375" width="5" height="29" fill="#000" />
<rect x="1189" y="376" width="3" height="27" fill="#fff" />
<rect x="1198" y="351" width="1" height="29" fill="#000" />
<rect x="1196" y="361" width="5" height="15" fill="#000" />
<rect x="1197" y="362" width="3" height="13" fill="#fff" />
<rect x="1206" y="354" width="1" height="17" fill="#000" />
<rect x="1204" y="361" width="5" height="6" fill="#000" />
<rect x="1214" y="362" width="1" height="17" fill="#000" />
<rect x="1212" y="366" width="5" height="5" fill="#000" />
<rect x="1222" y="366" width="1" height="19" fill="#000" />
<rect x="1220" y="369" width="5" height="13" fill="#000" />
<rect x="1230" y="378" width="1" height="3" fill="#000" />
<rect x="1228" y="378" width="5" height="1" fill="#000" />
<rect x="1238" y="374" width="1" height="11" fill="#000" />
<rect x="1236" y="374" width="5" height="5" fill="#000" />
<rect x="1237" y="375" width="3" height="3" fill="#fff" />
<rect x="1246" y="339" width="1" height="37" fill="#000" />
<rect x="1244" y="343" width="5" height="33" fill="#000" />
<rect x="1245" y="344" width="3" height="31" fill="#fff" />
<rect x="1254" y="337" width="1" height="38" fill="#000" />
<rect x="1252" y="342" width="5" height="19" fill="#000" />
<rect x="1262" y="339" width="1" height="29" fill="#000" />
<rect x="1260" y="346" width="5" height="15" fill="#000" />
<rect x="1261" y="347" width="3" height="13" fill="#fff" />
<rect x="1270" y="327" width="1" height="27" fill="#000" />
<rect x="1268" y="344" width="5" height="3" fill="#000" />
<rect x="1269" y="345" width="3" height="1" fill="#fff" />
<rect x="1278" y="338" width="1" height="4" fill="#000" />
<rect x="1276" y="339" width="5" height="1" fill="#000" />
<rect x="1286" y="300" width="1" height="42" fill="#000" />
<rect x="1284" y="305" width="5" height="35" fill="#000" />
<rect x="1285" y="306" width="3" height="33" fill="#fff" />
<rect x="1294" y="282" width="1" height="27" fill="#000" />
<rect x="1292" y="282" width="5" height="24" fill="#000" />
<rect x="1293" y="283" width="3" height="22" fill="#fff" />
<rect x="1302" y="273" width="1" height="16" fill="#000" />
<rect x="1300" y="282" width="5" height="1" fill="#000" />
<rect x="1310" y="270" width="1" height="33" fill="#000" />
<rect x="1308" y="276" width="5" height="8" fill="#000" />
<rect x="1309" y="277" width="3" height="6" fill="#fff" />
<rect x="1318" y="245" width="1" height="38" fill="#000" />
<rect x="1316" y="261" width="5" height="16" fill="#000" />
<rect x="1317" y="262" width="3" height="14" fill="#fff" />
<rect x="1326" y="245" width="1" height="9" fill="#000" />
<rect x="1324" y="248" width="5" height="6" fill="#000" />
<rect x="1325" y="249" width="3" height="4" fill="#fff" />
<rect x="1334" y="243" width="1" height="29" fill="#000" />
<rect x="1332" y="244" width="5" height="5" fill="#000" />
<rect x="1333" y="245" width="3" height="3" fill="#fff" />
<rect x="1342" y="243" width="1" height="31" fill="#000" />
<rect x="1340" y="244" width="5" height="8" fill="#000" />
<rect x="1350" y="225" width="1" height="27" fill="#000" />
<rect x="1348" y="250" width="5" height="1" fill="#000" />
<rect x="1358" y="240" width="1" height="45" fill="#000" />
<rect x="1356" y="250" width="5" height="35" fill="#000" />
<rect x="1366" y="264" width="1" height="45" fill="#000" />
<rect x="1364" y="283" width="5" height="22" fill="#000" />
<rect x="1374" y="298" width="1" height="6" fill="#000" />
<rect x="1372" y="299" width="5" height="1" fill="#000" />
<rect x="1382" y="268" width="1" height="46" fill="#000" />
<rect x="1380" y="268" width="5" height="32" fill="#000" />
<rect x="1381" y="269" width="3" height="30" fill="#fff" />
<rect x="1390" y="256" width="1" height="33" fill="#000" />
<rect x="1388" y="267" width="5" height="16" fill="#000" />
<rect x="1398" y="280" width="1" height="21" fill="#000" />
<rect x="1396" y="282" width="5" height="8" fill="#000" />
<rect x="1406" y="286" width="1" height="38" fill="#000" />
<rect x="1404" y="289" width="5" height="33" fill="#000" />
<rect x="1414" y="312" width="1" height="23" fill="#000" />
<rect x="1412" y="320" width="5" height="15" fill="#000" />
<rect x="1422" y="338" width="1" height="4" fill="#000" />
<rect x="1420" y="339" width="5" height="1" fill="#000" />
<rect x="1430" y="307" width="1" height="36" fill="#000" />
<rect x="1428" y="310" width="5" height="30" fill="#000" />
<rect x="1429" y="311" width="3" height="28" fill="#fff" />
</g>
<rect x="1342" y="324" width="120" height="7" fill="#00ff00" />
<line x1="1182" y1="403" x2="1343.7" y2="237.4" stroke="#ff0000" stroke-width="3"/>
<polygon points="1350,231 1346.6,243.1 1338.0,234.7" fill="#ff0000"/>
<line x1="1350" y1="231" x2="1374.7" y2="293.6" stroke="#ff0000" stroke-width="3"/>
<polygon points="1378,302 1368.4,294.0 1379.5,289.6" fill="#ff0000"/>
<line x1="1378" y1="302" x2="1390.3" y2="274.2" stroke="#ff0000" stroke-width="3"/>
<polygon points="1394,266 1395.0,278.5 1384.0,273.6" fill="#ff0000"/>
<line x1="1394" y1="266" x2="1416.2" y2="334.4" stroke="#ff0000" stroke-width="3"/>
<polygon points="1419,343 1409.9,334.4 1421.3,330.7" fill="#ff0000"/>
<line x1="1424" y1="344" x2="1435.0" y2="327.5" stroke="#ff0000" stroke-width="3"/>
<polygon points="1440,320 1438.9,332.5 1428.9,325.8" fill="#ff0000"/>
<g shape-rendering="crispEdges">
<rect x="1470" y="327" width="8" height="1" fill="#ff0000" />
<rect x="1478.5" y="325.5" width="2" height="3" fill="none" stroke="#ff0000" stroke-width="1"/>
<rect x="1481.5" y="315.5" width="73" height="24" fill="#fff" stroke="#ff0000" stroke-width="1"/>
</g>
<text x="1483.5" y="336" font-size="22" fill="#ff0000" text-anchor="start" font-weight="normal" textLength="69" lengthAdjust="spacingAndGlyphs" >1.23941</text>
<text x="1490" y="371.3" font-size="20" fill="#00ff00" font-family='"Liberation Sans","WenQuanYi Zen Hei","Noto Sans CJK SC",sans-serif' textLength="111" lengthAdjust="spacingAndGlyphs">多空转折点</text>
<g shape-rendering="crispEdges">
<rect x="6" y="623" width="1" height="9" fill="#c0c0c0" />
<rect x="14" y="623" width="1" height="9" fill="#c0c0c0" />
<rect x="22" y="623" width="1" height="9" fill="#c0c0c0" />
<rect x="30" y="622" width="1" height="10" fill="#c0c0c0" />
<rect x="38" y="623" width="1" height="9" fill="#c0c0c0" />
<rect x="46" y="621" width="1" height="11" fill="#c0c0c0" />
<rect x="54" y="621" width="1" height="11" fill="#c0c0c0" />
<rect x="62" y="617" width="1" height="15" fill="#c0c0c0" />
<rect x="70" y="613" width="1" height="19" fill="#c0c0c0" />
<rect x="78" y="610" width="1" height="22" fill="#c0c0c0" />
<rect x="86" y="609" width="1" height="23" fill="#c0c0c0" />
<rect x="94" y="607" width="1" height="25" fill="#c0c0c0" />
<rect x="102" y="607" width="1" height="25" fill="#c0c0c0" />
<rect x="110" y="605" width="1" height="27" fill="#c0c0c0" />
<rect x="118" y="597" width="1" height="35" fill="#c0c0c0" />
<rect x="126" y="596" width="1" height="36" fill="#c0c0c0" />
<rect x="134" y="596" width="1" height="36" fill="#c0c0c0" />
<rect x="142" y="596" width="1" height="36" fill="#c0c0c0" />
<rect x="150" y="600" width="1" height="32" fill="#c0c0c0" />
<rect x="158" y="605" width="1" height="27" fill="#c0c0c0" />
<rect x="166" y="611" width="1" height="21" fill="#c0c0c0" />
<rect x="174" y="616" width="1" height="16" fill="#c0c0c0" />
<rect x="182" y="620" width="1" height="12" fill="#c0c0c0" />
<rect x="190" y="625" width="1" height="7" fill="#c0c0c0" />
<rect x="198" y="630" width="1" height="2" fill="#c0c0c0" />
<rect x="206" y="631" width="1" height="1" fill="#c0c0c0" />
<rect x="214" y="631" width="1" height="1" fill="#c0c0c0" />
<rect x="222" y="631" width="1" height="1" fill="#c0c0c0" />
<rect x="230" y="631" width="1" height="1" fill="#c0c0c0" />
<rect x="238" y="629" width="1" height="3" fill="#c0c0c0" />
<rect x="246" y="625" width="1" height="7" fill="#c0c0c0" />
<rect x="254" y="622" width="1" height="10" fill="#c0c0c0" />
<rect x="262" y="622" width="1" height="10" fill="#c0c0c0" />
<rect x="270" y="624" width="1" height="8" fill="#c0c0c0" />
<rect x="278" y="624" width="1" height="8" fill="#c0c0c0" />
<rect x="286" y="624" width="1" height="8" fill="#c0c0c0" />
<rect x="294" y="625" width="1" height="7" fill="#c0c0c0" />
<rect x="302" y="626" width="1" height="6" fill="#c0c0c0" />
<rect x="310" y="627" width="1" height="5" fill="#c0c0c0" />
<rect x="318" y="629" width="1" height="3" fill="#c0c0c0" />
<rect x="326" y="631" width="1" height="1" fill="#c0c0c0" />
<rect x="334" y="631" width="1" height="1" fill="#c0c0c0" />
<rect x="342" y="631" width="1" height="4" fill="#c0c0c0" />
<rect x="350" y="631" width="1" height="4" fill="#c0c0c0" />
<rect x="358" y="631" width="1" height="4" fill="#c0c0c0" />
<rect x="366" y="631" width="1" height="5" fill="#c0c0c0" />
<rect x="374" y="631" width="1" height="6" fill="#c0c0c0" />
<rect x="382" y="631" width="1" height="7" fill="#c0c0c0" />
<rect x="390" y="631" width="1" height="6" fill="#c0c0c0" />
<rect x="398" y="631" width="1" height="1" fill="#c0c0c0" />
<rect x="406" y="631" width="1" height="2" fill="#c0c0c0" />
<rect x="414" y="631" width="1" height="2" fill="#c0c0c0" />
<rect x="422" y="631" width="1" height="2" fill="#c0c0c0" />
<rect x="430" y="631" width="1" height="2" fill="#c0c0c0" />
<rect x="438" y="630" width="1" height="2" fill="#c0c0c0" />
<rect x="446" y="631" width="1" height="3" fill="#c0c0c0" />
<rect x="454" y="631" width="1" height="2" fill="#c0c0c0" />
<rect x="462" y="630" width="1" height="2" fill="#c0c0c0" />
<rect x="470" y="628" width="1" height="4" fill="#c0c0c0" />
<rect x="478" y="630" width="1" height="2" fill="#c0c0c0" />
<rect x="486" y="631" width="1" height="2" fill="#c0c0c0" />
<rect x="494" y="631" width="1" height="3" fill="#c0c0c0" />
<rect x="502" y="631" width="1" height="6" fill="#c0c0c0" />
<rect x="510" y="631" width="1" height="10" fill="#c0c0c0" />
<rect x="518" y="631" width="1" height="12" fill="#c0c0c0" />
<rect x="526" y="631" width="1" height="13" fill="#c0c0c0" />
<rect x="534" y="631" width="1" height="13" fill="#c0c0c0" />
<rect x="542" y="631" width="1" height="13" fill="#c0c0c0" />
<rect x="550" y="631" width="1" height="8" fill="#c0c0c0" />
<rect x="558" y="631" width="1" height="8" fill="#c0c0c0" />
<rect x="566" y="631" width="1" height="6" fill="#c0c0c0" />
<rect x="574" y="631" width="1" height="6" fill="#c0c0c0" />
<rect x="582" y="631" width="1" height="6" fill="#c0c0c0" />
<rect x="590" y="631" width="1" height="7" fill="#c0c0c0" />
<rect x="598" y="631" width="1" height="9" fill="#c0c0c0" />
<rect x="606" y="631" width="1" height="9" fill="#c0c0c0" />
<rect x="614" y="631" width="1" height="9" fill="#c0c0c0" />
<rect x="622" y="631" width="1" height="9" fill="#c0c0c0" />
<rect x="630" y="631" width="1" height="9" fill="#c0c0c0" />
<rect x="638" y="631" width="1" height="9" fill="#c0c0c0" />
<rect x="646" y="631" width="1" height="9" fill="#c0c0c0" />
<rect x="654" y="631" width="1" height="14" fill="#c0c0c0" />
<rect x="662" y="631" width="1" height="16" fill="#c0c0c0" />
<rect x="670" y="631" width="1" height="18" fill="#c0c0c0" />
<rect x="678" y="631" width="1" height="19" fill="#c0c0c0" />
<rect x="686" y="631" width="1" height="17" fill="#c0c0c0" />
<rect x="694" y="631" width="1" height="15" fill="#c0c0c0" />
<rect x="702" y="631" width="1" height="10" fill="#c0c0c0" />
<rect x="710" y="631" width="1" height="5" fill="#c0c0c0" />
<rect x="718" y="631" width="1" height="2" fill="#c0c0c0" />
<rect x="726" y="631" width="1" height="2" fill="#c0c0c0" />
<rect x="734" y="631" width="1" height="5" fill="#c0c0c0" />
<rect x="742" y="631" width="1" height="14" fill="#c0c0c0" />
<rect x="750" y="631" width="1" height="27" fill="#c0c0c0" />
<rect x="758" y="631" width="1" height="35" fill="#c0c0c0" />
<rect x="766" y="631" width="1" height="44" fill="#c0c0c0" />
<rect x="774" y="631" width="1" height="55" fill="#c0c0c0" />
<rect x="782" y="631" width="1" height="75" fill="#c0c0c0" />
<rect x="790" y="631" width="1" height="93" fill="#c0c0c0" />
<rect x="798" y="631" width="1" height="104" fill="#c0c0c0" />
<rect x="806" y="631" width="1" height="111" fill="#c0c0c0" />
<rect x="814" y="631" width="1" height="114" fill="#c0c0c0" />
<rect x="822" y="631" width="1" height="112" fill="#c0c0c0" />
<rect x="830" y="631" width="1" height="107" fill="#c0c0c0" />
<rect x="838" y="631" width="1" height="93" fill="#c0c0c0" />
<rect x="846" y="631" width="1" height="74" fill="#c0c0c0" />
<rect x="854" y="631" width="1" height="59" fill="#c0c0c0" />
<rect x="862" y="631" width="1" height="49" fill="#c0c0c0" />
<rect x="870" y="631" width="1" height="38" fill="#c0c0c0" />
<rect x="878" y="631" width="1" height="32" fill="#c0c0c0" />
<rect x="886" y="631" width="1" height="25" fill="#c0c0c0" />
<rect x="894" y="631" width="1" height="23" fill="#c0c0c0" />
<rect x="902" y="631" width="1" height="23" fill="#c0c0c0" />
<rect x="910" y="631" width="1" height="21" fill="#c0c0c0" />
<rect x="918" y="631" width="1" height="18" fill="#c0c0c0" />
<rect x="926" y="631" width="1" height="13" fill="#c0c0c0" />
<rect x="934" y="631" width="1" height="8" fill="#c0c0c0" />
<rect x="942" y="631" width="1" height="3" fill="#c0c0c0" />
<rect x="950" y="630" width="1" height="2" fill="#c0c0c0" />
<rect x="958" y="623" width="1" height="9" fill="#c0c0c0" />
<rect x="966" y="621" width="1" height="11" fill="#c0c0c0" />
<rect x="974" y="620" width="1" height="12" fill="#c0c0c0" />
<rect x="982" y="619" width="1" height="13" fill="#c0c0c0" />
<rect x="990" y="619" width="1" height="13" fill="#c0c0c0" />
<rect x="998" y="620" width="1" height="12" fill="#c0c0c0" />
<rect x="1006" y="625" width="1" height="7" fill="#c0c0c0" />
<rect x="1014" y="628" width="1" height="4" fill="#c0c0c0" />
<rect x="1022" y="630" width="1" height="2" fill="#c0c0c0" />
<rect x="1030" y="631" width="1" height="1" fill="#c0c0c0" />
<rect x="1038" y="631" width="1" height="2" fill="#c0c0c0" />
<rect x="1046" y="630" width="1" height="2" fill="#c0c0c0" />
<rect x="1054" y="630" width="1" height="2" fill="#c0c0c0" />
<rect x="1062" y="628" width="1" height="4" fill="#c0c0c0" />
<rect x="1070" y="624" width="1" height="8" fill="#c0c0c0" />
<rect x="1078" y="624" width="1" height="8" fill="#c0c0c0" />
<rect x="1086" y="624" width="1" height="8" fill="#c0c0c0" />
<rect x="1094" y="625" width="1" height="7" fill="#c0c0c0" />
<rect x="1102" y="625" width="1" height="7" fill="#c0c0c0" />
<rect x="1110" y="629" width="1" height="3" fill="#c0c0c0" />
<rect x="1118" y="630" width="1" height="2" fill="#c0c0c0" />
<rect x="1126" y="631" width="1" height="1" fill="#c0c0c0" />
<rect x="1134" y="631" width="1" height="1" fill="#c0c0c0" />
<rect x="1142" y="631" width="1" height="1" fill="#c0c0c0" />
<rect x="1150" y="631" width="1" height="6" fill="#c0c0c0" />
<rect x="1158" y="631" width="1" height="9" fill="#c0c0c0" />
<rect x="1166" y="631" width="1" height="12" fill="#c0c0c0" />
<rect x="1174" y="631" width="1" height="17" fill="#c0c0c0" />
<rect x="1182" y="631" width="1" height="20" fill="#c0c0c0" />
<rect x="1190" y="631" width="1" height="20" fill="#c0c0c0" />
<rect x="1198" y="631" width="1" height="20" fill="#c0c0c0" />
<rect x="1206" y="631" width="1" height="19" fill="#c0c0c0" />
<rect x="1214" y="631" width="1" height="18" fill="#c0c0c0" />
<rect x="1222" y="631" width="1" height="18" fill="#c0c0c0" />
<rect x="1230" y="631" width="1" height="18" fill="#c0c0c0" />
<rect x="1238" y="631" width="1" height="18" fill="#c0c0c0" />
<rect x="1246" y="631" width="1" height="15" fill="#c0c0c0" />
<rect x="1254" y="631" width="1" height="13" fill="#c0c0c0" />
<rect x="1262" y="631" width="1" height="10" fill="#c0c0c0" />
<rect x="1270" y="631" width="1" height="8" fill="#c0c0c0" />
<rect x="1278" y="631" width="1" height="6" fill="#c0c0c0" />
<rect x="1286" y="631" width="1" height="2" fill="#c0c0c0" />
<rect x="1294" y="624" width="1" height="8" fill="#c0c0c0" />
<rect x="1302" y="619" width="1" height="13" fill="#c0c0c0" />
<rect x="1310" y="615" width="1" height="17" fill="#c0c0c0" />
<rect x="1318" y="610" width="1" height="22" fill="#c0c0c0" />
<rect x="1326" y="605" width="1" height="27" fill="#c0c0c0" />
<rect x="1334" y="601" width="1" height="31" fill="#c0c0c0" />
<rect x="1342" y="599" width="1" height="33" fill="#c0c0c0" />
<rect x="1350" y="598" width="1" height="34" fill="#c0c0c0" />
<rect x="1358" y="600" width="1" height="32" fill="#c0c0c0" />
<rect x="1366" y="606" width="1" height="26" fill="#c0c0c0" />
<rect x="1374" y="609" width="1" height="23" fill="#c0c0c0" />
<rect x="1382" y="608" width="1" height="24" fill="#c0c0c0" />
<rect x="1390" y="610" width="1" height="22" fill="#c0c0c0" />
<rect x="1398" y="612" width="1" height="20" fill="#c0c0c0" />
<rect x="1406" y="617" width="1" height="15" fill="#c0c0c0" />
<rect x="1414" y="623" width="1" height="9" fill="#c0c0c0" />
<rect x="1422" y="628" width="1" height="4" fill="#c0c0c0" />
<rect x="1430" y="629" width="1" height="3" fill="#c0c0c0" />
</g>
<polyline points="0.5,617.7 10.5,618.6 22.2,619.9 33.9,621.1 50.6,621.9 64.0,621.9 70.7,620.6 80.7,618.6 90.7,616.9 100.7,614.1 110.8,611.6 119.1,609.4 127.5,606.1 137.5,603.2 147.5,601.0 157.5,599.9 167.5,600.5 177.5,601.9 187.6,604.4 197.6,608.6 206.0,614.4 216.0,619.4 224.4,623.6 234.4,627.3 244.4,628.6 259.4,628.6 271.1,627.8 283.0,626.0 293.9,625.0 305.5,624.3 311.8,623.9 318.1,625.0 329.8,626.0 341.9,627.9 354.0,630.0 365.7,632.1 377.8,633.1 389.9,634.9 396.2,635.8 407.5,634.9 422.5,634.9 440.5,633.9 457.3,633.9 467.3,631.9 499.0,631.9 510.7,632.7 520.7,633.9 529.1,634.7 535.8,637.3 545.8,639.3 559.2,640.6 579.2,640.9 592.6,640.1 609.3,639.4 629.3,638.9 644.4,639.8 657.7,641.1 671.1,641.8 681.1,643.9 694.5,644.6 713.9,644.8 725.5,641.4 742.3,640.9 762.3,644.8 774.0,651.0 785.7,663.1 794.1,674.0 800.7,682.4 809.1,694.1 817.4,707.4 825.8,717.4 832.5,723.3 842.5,727.8 850.9,727.8 860.9,723.8 870.9,715.8 880.9,705.7 887.6,695.7 894.3,687.4 906.0,675.3 917.7,664.0 931.0,654.8 944.4,648.9 957.8,642.3 971.1,635.9 982.8,630.6 990.5,628.6 998.9,625.2 1013.9,623.1 1030.6,623.6 1042.3,625.2 1054.0,626.7 1064.0,628.1 1080.7,628.1 1097.4,627.2 1114.1,626.9 1139.2,626.9 1155.9,629.7 1167.6,633.1 1177.6,636.4 1189.3,640.6 1202.7,643.6 1214.4,646.4 1227.7,648.9 1241.1,649.9 1254.5,649.3 1262.4,647.9 1270.5,647.0 1281.8,643.9 1294.3,640.0 1306.1,635.0 1318.0,629.1 1329.9,623.3 1342.4,616.3 1354.3,609.8 1366.8,605.8 1379.3,604.1 1385.5,603.8 1398.0,605.0 1410.5,607.3 1420.5,611.3 1430.5,614.5" fill="none" stroke="#ff0000" stroke-width="1" stroke-dasharray="3,3" shape-rendering="crispEdges"/>
<g shape-rendering="crispEdges">
<line x1="0" y1="791.5" x2="1689" y2="791.5" stroke="#c0c0c0" stroke-width="1" stroke-dasharray="3,3" stroke-dashoffset="1"/>
<line x1="0" y1="842.5" x2="1689" y2="842.5" stroke="#c0c0c0" stroke-width="1" stroke-dasharray="3,3" stroke-dashoffset="1"/>
<line x1="0" y1="903.5" x2="1689" y2="903.5" stroke="#c0c0c0" stroke-width="1" stroke-dasharray="3,3" stroke-dashoffset="1"/>
</g>
<g clip-path="url(#clipRsi)">
<polyline points="-1.5,832.5 6.5,840.7 14.5,829.0 22.5,832.6 30.5,829.0 38.5,833.6 46.5,829.3 54.5,820.6 62.5,808.1 70.5,803.1 78.5,807.6 86.5,807.6 94.5,806.4 102.5,811.4 110.5,803.9 118.5,785.9 126.5,809.8 134.5,808.9 142.5,818.9 150.5,839.0 158.5,843.2 166.5,849.9 174.5,849.9 182.5,851.0 190.5,857.4 198.5,858.7 206.5,852.4 214.5,848.2 222.5,837.0 230.5,838.2 238.5,835.7 246.5,820.6 254.5,820.6 262.5,834.8 270.5,843.7 278.5,843.7 286.5,833.6 294.5,840.7 302.5,842.0 310.5,845.7 318.5,847.0 326.5,849.9 334.5,856.5 342.5,850.7 350.5,849.0 358.5,843.2 366.5,850.7 374.5,852.7 382.5,852.7 390.5,845.3 398.5,831.0 406.5,835.7 414.5,842.0 422.5,844.8 430.5,845.3 438.5,850.7 446.5,850.7 454.5,841.5 462.5,823.6 470.5,827.3 478.5,853.7 486.5,848.7 494.5,852.0 502.5,860.4 510.5,864.9 518.5,864.1 526.5,859.9 534.5,852.7 542.5,852.7 550.5,838.7 558.5,840.3 566.5,838.9 574.5,845.7 582.5,847.0 590.5,856.5 598.5,862.4 606.5,847.0 614.5,849.8 622.5,853.2 630.5,842.0 638.5,853.7 646.5,857.0 654.5,867.0 662.5,864.0 670.5,867.4 678.5,859.4 686.5,850.7 694.5,840.3 702.5,831.5 710.5,824.8 718.5,828.1 726.5,848.2 734.5,856.5 742.5,875.7 750.5,885.7 758.5,876.1 766.5,882.4 774.5,886.6 782.5,898.3 790.5,902.1 798.5,894.1 806.5,890.8 814.5,890.8 822.5,874.9 830.5,870.7 838.5,851.5 846.5,835.8 854.5,837.0 862.5,841.0 870.5,839.8 878.5,841.0 886.5,839.8 894.5,847.3 902.5,849.8 910.5,848.7 918.5,842.0 926.5,838.1 934.5,834.8 942.5,834.8 950.5,830.6 958.5,823.9 966.5,833.1 974.5,835.6 982.5,835.6 990.5,836.0 998.5,839.0 1006.5,851.5 1014.5,849.8 1022.5,847.0 1030.5,847.0 1038.5,846.0 1046.5,839.8 1054.5,838.6 1062.5,834.3 1070.5,823.9 1078.5,835.6 1086.5,838.6 1094.5,840.6 1102.5,841.0 1110.5,853.7 1118.5,847.5 1126.5,844.1 1134.5,842.8 1142.5,852.8 1150.5,860.7 1158.5,862.0 1166.5,862.0 1174.5,872.7 1182.5,874.9 1190.5,857.6 1198.5,850.5 1206.5,852.4 1214.5,854.6 1222.5,859.8 1230.5,857.9 1238.5,854.6 1246.5,838.0 1254.5,845.4 1262.5,839.9 1270.5,839.1 1278.5,836.7 1286.5,822.5 1294.5,814.0 1302.5,814.6 1310.5,812.8 1318.5,808.1 1326.5,804.8 1334.5,804.1 1342.5,807.8 1350.5,808.1 1358.5,830.3 1366.5,841.7 1374.5,839.9 1382.5,827.0 1390.5,833.6 1398.5,837.6 1406.5,850.2 1414.5,857.6 1422.5,858.8 1430.5,844.6" fill="none" stroke="#1e90ff" stroke-width="1" shape-rendering="crispEdges"/>
</g>
<g shape-rendering="crispEdges">
<rect x="1690" y="50" width="2" height="1" fill="#000" />
<rect x="1690" y="83" width="2" height="1" fill="#000" />
<rect x="1690" y="116" width="2" height="1" fill="#000" />
<rect x="1690" y="149" width="2" height="1" fill="#000" />
<rect x="1690" y="182" width="2" height="1" fill="#000" />
<rect x="1690" y="215" width="2" height="1" fill="#000" />
<rect x="1690" y="248" width="2" height="1" fill="#000" />
<rect x="1690" y="281" width="2" height="1" fill="#000" />
<rect x="1690" y="314" width="2" height="1" fill="#000" />
<rect x="1690" y="347" width="2" height="1" fill="#000" />
<rect x="1690" y="380" width="2" height="1" fill="#000" />
<rect x="1690" y="413" width="2" height="1" fill="#000" />
<rect x="1690" y="446" width="2" height="1" fill="#000" />
<rect x="1690" y="479" width="2" height="1" fill="#000" />
<rect x="1690" y="512" width="2" height="1" fill="#000" />
<rect x="1690" y="545" width="2" height="1" fill="#000" />
<rect x="1690" y="578" width="2" height="1" fill="#000" />
</g>
<text x="1696" y="54" font-size="9.5" fill="#000" text-anchor="start" font-weight="normal" textLength="32" lengthAdjust="spacingAndGlyphs" stroke="#000" stroke-width="0.25" >1.35280</text>
<text x="1696" y="87" font-size="9.5" fill="#000" text-anchor="start" font-weight="normal" textLength="32" lengthAdjust="spacingAndGlyphs" stroke="#000" stroke-width="0.25" >1.33920</text>
<text x="1696" y="120" font-size="9.5" fill="#000" text-anchor="start" font-weight="normal" textLength="32" lengthAdjust="spacingAndGlyphs" stroke="#000" stroke-width="0.25" >1.32560</text>
<text x="1696" y="153" font-size="9.5" fill="#000" text-anchor="start" font-weight="normal" textLength="32" lengthAdjust="spacingAndGlyphs" stroke="#000" stroke-width="0.25" >1.31240</text>
<text x="1696" y="186" font-size="9.5" fill="#000" text-anchor="start" font-weight="normal" textLength="32" lengthAdjust="spacingAndGlyphs" stroke="#000" stroke-width="0.25" >1.29880</text>
<text x="1696" y="219" font-size="9.5" fill="#000" text-anchor="start" font-weight="normal" textLength="32" lengthAdjust="spacingAndGlyphs" stroke="#000" stroke-width="0.25" >1.28520</text>
<text x="1696" y="252" font-size="9.5" fill="#000" text-anchor="start" font-weight="normal" textLength="32" lengthAdjust="spacingAndGlyphs" stroke="#000" stroke-width="0.25" >1.27160</text>
<text x="1696" y="285" font-size="9.5" fill="#000" text-anchor="start" font-weight="normal" textLength="32" lengthAdjust="spacingAndGlyphs" stroke="#000" stroke-width="0.25" >1.25840</text>
<text x="1696" y="318" font-size="9.5" fill="#000" text-anchor="start" font-weight="normal" textLength="32" lengthAdjust="spacingAndGlyphs" stroke="#000" stroke-width="0.25" >1.24480</text>
<text x="1696" y="351" font-size="9.5" fill="#000" text-anchor="start" font-weight="normal" textLength="32" lengthAdjust="spacingAndGlyphs" stroke="#000" stroke-width="0.25" >1.23120</text>
<text x="1696" y="384" font-size="9.5" fill="#000" text-anchor="start" font-weight="normal" textLength="32" lengthAdjust="spacingAndGlyphs" stroke="#000" stroke-width="0.25" >1.21760</text>
<text x="1696" y="417" font-size="9.5" fill="#000" text-anchor="start" font-weight="normal" textLength="32" lengthAdjust="spacingAndGlyphs" stroke="#000" stroke-width="0.25" >1.20400</text>
<text x="1696" y="450" font-size="9.5" fill="#000" text-anchor="start" font-weight="normal" textLength="32" lengthAdjust="spacingAndGlyphs" stroke="#000" stroke-width="0.25" >1.19080</text>
<text x="1696" y="483" font-size="9.5" fill="#000" text-anchor="start" font-weight="normal" textLength="32" lengthAdjust="spacingAndGlyphs" stroke="#000" stroke-width="0.25" >1.17720</text>
<text x="1696" y="516" font-size="9.5" fill="#000" text-anchor="start" font-weight="normal" textLength="32" lengthAdjust="spacingAndGlyphs" stroke="#000" stroke-width="0.25" >1.16360</text>
<text x="1696" y="549" font-size="9.5" fill="#000" text-anchor="start" font-weight="normal" textLength="32" lengthAdjust="spacingAndGlyphs" stroke="#000" stroke-width="0.25" >1.15000</text>
<text x="1696" y="582" font-size="9.5" fill="#000" text-anchor="start" font-weight="normal" textLength="32" lengthAdjust="spacingAndGlyphs" stroke="#000" stroke-width="0.25" >1.13680</text>
<rect x="1691" y="258" width="41" height="11" fill="#ff4500" shape-rendering="crispEdges"/>
<text x="1696" y="268" font-size="9.5" fill="#fff" text-anchor="start" font-weight="normal" textLength="32" lengthAdjust="spacingAndGlyphs" stroke="#fff" stroke-width="0.25" >1.26516</text>
<rect x="1691" y="281" width="41" height="11" fill="#ff0000" shape-rendering="crispEdges"/>
<text x="1696" y="291" font-size="9.5" fill="#fff" text-anchor="start" font-weight="normal" textLength="32" lengthAdjust="spacingAndGlyphs" stroke="#fff" stroke-width="0.25" >1.25576</text>
<rect x="1691" y="321" width="41" height="11" fill="#32cd32" shape-rendering="crispEdges"/>
<text x="1696" y="331" font-size="9.5" fill="#fff" text-anchor="start" font-weight="normal" textLength="32" lengthAdjust="spacingAndGlyphs" stroke="#fff" stroke-width="0.25" >1.23941</text>
<rect x="1691" y="347" width="41" height="11" fill="#0000ff" shape-rendering="crispEdges"/>
<text x="1696" y="357" font-size="9.5" fill="#fff" text-anchor="start" font-weight="normal" textLength="32" lengthAdjust="spacingAndGlyphs" stroke="#fff" stroke-width="0.25" >1.22878</text>
<rect x="1691" y="369" width="41" height="11" fill="#0000ff" shape-rendering="crispEdges"/>
<text x="1696" y="379" font-size="9.5" fill="#fff" text-anchor="start" font-weight="normal" textLength="32" lengthAdjust="spacingAndGlyphs" stroke="#fff" stroke-width="0.25" >1.21979</text>
<rect x="1691" y="304" width="41" height="11" fill="#000" shape-rendering="crispEdges"/>
<text x="1696" y="313" font-size="9.5" fill="#fff" text-anchor="start" font-weight="normal" textLength="32" lengthAdjust="spacingAndGlyphs" stroke="#fff" stroke-width="0.25" >1.24663</text>
<rect x="1690" y="585" width="1" height="1" fill="#000" />
<text x="1693" y="594" font-size="9.5" fill="#000" text-anchor="start" font-weight="normal" textLength="27" lengthAdjust="spacingAndGlyphs" stroke="#000" stroke-width="0.25" >0.0148</text>
<rect x="1690" y="631" width="1" height="1" fill="#000" />
<text x="1693" y="635" font-size="9.5" fill="#000" text-anchor="start" font-weight="normal" textLength="17" lengthAdjust="spacingAndGlyphs" stroke="#000" stroke-width="0.25" >0.00</text>
<rect x="1690" y="752" width="1" height="1" fill="#000" />
<text x="1693" y="750" font-size="9.5" fill="#000" text-anchor="start" font-weight="normal" textLength="41" lengthAdjust="spacingAndGlyphs" stroke="#000" stroke-width="0.25" >-0.038415</text>
<rect x="1690" y="757" width="1" height="1" fill="#000" />
<rect x="1690" y="928" width="1" height="1" fill="#000" />
<text x="1694" y="766" font-size="9.5" fill="#000" text-anchor="start" font-weight="normal" textLength="14" lengthAdjust="spacingAndGlyphs" stroke="#000" stroke-width="0.25" >100</text>
<text x="1693" y="795" font-size="9.5" fill="#000" text-anchor="start" font-weight="normal" textLength="10" lengthAdjust="spacingAndGlyphs" stroke="#000" stroke-width="0.25" >80</text>
<text x="1693" y="846" font-size="9.5" fill="#000" text-anchor="start" font-weight="normal" textLength="10" lengthAdjust="spacingAndGlyphs" stroke="#000" stroke-width="0.25" >50</text>
<text x="1693" y="907" font-size="9.5" fill="#000" text-anchor="start" font-weight="normal" textLength="10" lengthAdjust="spacingAndGlyphs" stroke="#000" stroke-width="0.25" >15</text>
<text x="1693" y="926" font-size="9.5" fill="#000" text-anchor="start" font-weight="normal" textLength="5" lengthAdjust="spacingAndGlyphs" stroke="#000" stroke-width="0.25" >0</text>
<rect x="-2" y="930" width="1" height="4" fill="#000" shape-rendering="crispEdges"/>
<text x="-3" y="942" font-size="9.3" fill="#000" text-anchor="start" font-weight="normal" stroke="#000" stroke-width="0.25" >25 Nov 2019</text>
<rect x="62" y="930" width="1" height="4" fill="#000" shape-rendering="crispEdges"/>
<text x="61" y="942" font-size="9.3" fill="#000" text-anchor="start" font-weight="normal" stroke="#000" stroke-width="0.25" >4 Dec 2019</text>
<rect x="126" y="930" width="1" height="4" fill="#000" shape-rendering="crispEdges"/>
<text x="125" y="942" font-size="9.3" fill="#000" text-anchor="start" font-weight="normal" stroke="#000" stroke-width="0.25" >13 Dec 2019</text>
<rect x="190" y="930" width="1" height="4" fill="#000" shape-rendering="crispEdges"/>
<text x="189" y="942" font-size="9.3" fill="#000" text-anchor="start" font-weight="normal" stroke="#000" stroke-width="0.25" >23 Dec 2019</text>
<rect x="254" y="930" width="1" height="4" fill="#000" shape-rendering="crispEdges"/>
<text x="253" y="942" font-size="9.3" fill="#000" text-anchor="start" font-weight="normal" stroke="#000" stroke-width="0.25" >1 Jan 2020</text>
<rect x="318" y="930" width="1" height="4" fill="#000" shape-rendering="crispEdges"/>
<text x="317" y="942" font-size="9.3" fill="#000" text-anchor="start" font-weight="normal" stroke="#000" stroke-width="0.25" >10 Jan 2020</text>
<rect x="382" y="930" width="1" height="4" fill="#000" shape-rendering="crispEdges"/>
<text x="381" y="942" font-size="9.3" fill="#000" text-anchor="start" font-weight="normal" stroke="#000" stroke-width="0.25" >20 Jan 2020</text>
<rect x="446" y="930" width="1" height="4" fill="#000" shape-rendering="crispEdges"/>
<text x="445" y="942" font-size="9.3" fill="#000" text-anchor="start" font-weight="normal" stroke="#000" stroke-width="0.25" >29 Jan 2020</text>
<rect x="510" y="930" width="1" height="4" fill="#000" shape-rendering="crispEdges"/>
<text x="509" y="942" font-size="9.3" fill="#000" text-anchor="start" font-weight="normal" stroke="#000" stroke-width="0.25" >7 Feb 2020</text>
<rect x="574" y="930" width="1" height="4" fill="#000" shape-rendering="crispEdges"/>
<text x="573" y="942" font-size="9.3" fill="#000" text-anchor="start" font-weight="normal" stroke="#000" stroke-width="0.25" >17 Feb 2020</text>
<rect x="638" y="930" width="1" height="4" fill="#000" shape-rendering="crispEdges"/>
<text x="637" y="942" font-size="9.3" fill="#000" text-anchor="start" font-weight="normal" stroke="#000" stroke-width="0.25" >26 Feb 2020</text>
<rect x="702" y="930" width="1" height="4" fill="#000" shape-rendering="crispEdges"/>
<text x="701" y="942" font-size="9.3" fill="#000" text-anchor="start" font-weight="normal" stroke="#000" stroke-width="0.25" >6 Mar 2020</text>
<rect x="766" y="930" width="1" height="4" fill="#000" shape-rendering="crispEdges"/>
<text x="765" y="942" font-size="9.3" fill="#000" text-anchor="start" font-weight="normal" stroke="#000" stroke-width="0.25" >16 Mar 2020</text>
<rect x="830" y="930" width="1" height="4" fill="#000" shape-rendering="crispEdges"/>
<text x="829" y="942" font-size="9.3" fill="#000" text-anchor="start" font-weight="normal" stroke="#000" stroke-width="0.25" >25 Mar 2020</text>
<rect x="894" y="930" width="1" height="4" fill="#000" shape-rendering="crispEdges"/>
<text x="893" y="942" font-size="9.3" fill="#000" text-anchor="start" font-weight="normal" stroke="#000" stroke-width="0.25" >3 Apr 2020</text>
<rect x="958" y="930" width="1" height="4" fill="#000" shape-rendering="crispEdges"/>
<text x="957" y="942" font-size="9.3" fill="#000" text-anchor="start" font-weight="normal" stroke="#000" stroke-width="0.25" >14 Apr 2020</text>
<rect x="1022" y="930" width="1" height="4" fill="#000" shape-rendering="crispEdges"/>
<text x="1021" y="942" font-size="9.3" fill="#000" text-anchor="start" font-weight="normal" stroke="#000" stroke-width="0.25" >23 Apr 2020</text>
<rect x="1086" y="930" width="1" height="4" fill="#000" shape-rendering="crispEdges"/>
<text x="1085" y="942" font-size="9.3" fill="#000" text-anchor="start" font-weight="normal" stroke="#000" stroke-width="0.25" >3 May 2020</text>
<rect x="1150" y="930" width="1" height="4" fill="#000" shape-rendering="crispEdges"/>
<text x="1149" y="942" font-size="9.3" fill="#000" text-anchor="start" font-weight="normal" stroke="#000" stroke-width="0.25" >12 May 2020</text>
<rect x="1214" y="930" width="1" height="4" fill="#000" shape-rendering="crispEdges"/>
<text x="1213" y="942" font-size="9.3" fill="#000" text-anchor="start" font-weight="normal" stroke="#000" stroke-width="0.25" >21 May 2020</text>
<rect x="1278" y="930" width="1" height="4" fill="#000" shape-rendering="crispEdges"/>
<text x="1277" y="942" font-size="9.3" fill="#000" text-anchor="start" font-weight="normal" stroke="#000" stroke-width="0.25" >31 May 2020</text>
<rect x="1342" y="930" width="1" height="4" fill="#000" shape-rendering="crispEdges"/>
<text x="1341" y="942" font-size="9.3" fill="#000" text-anchor="start" font-weight="normal" stroke="#000" stroke-width="0.25" >9 Jun 2020</text>
<rect x="1406" y="930" width="1" height="4" fill="#000" shape-rendering="crispEdges"/>
<text x="1405" y="942" font-size="9.3" fill="#000" text-anchor="start" font-weight="normal" stroke="#000" stroke-width="0.25" >18 Jun 2020</text>
<text x="2.5" y="595.5" font-size="9.5" fill="#000" text-anchor="start" font-weight="normal" textLength="147" lengthAdjust="spacingAndGlyphs" stroke="#000" stroke-width="0.25" >MACD(12,26,9) 0.000968 0.005191</text>
<text x="2.5" y="767.5" font-size="9.5" fill="#000" text-anchor="start" font-weight="normal" textLength="67" lengthAdjust="spacingAndGlyphs" stroke="#000" stroke-width="0.25" >RSI(14) 49.4522</text>
<polygon points="1,39 8,39 4.5,35" fill="#000"/>
<text x="13" y="40" font-size="9.5" fill="#000" text-anchor="start" font-weight="normal" stroke="#000" stroke-width="0.25" >GBPUSD-,Daily</text>
<text x="86.5" y="40" font-size="9.5" fill="#000" text-anchor="start" font-weight="normal" textLength="140" lengthAdjust="spacingAndGlyphs" stroke="#000" stroke-width="0.25" >1.23457 1.24760 1.23346 1.24663</text>
<polygon points="1430,29 1439,29 1434.5,34" fill="#c0c0c0"/>
<rect x="0" y="46" width="222" height="68" fill="#fff" />
<defs>
<linearGradient id="gTab" x1="0" y1="0" x2="0" y2="1"><stop offset="0" stop-color="#5a5aff"/><stop offset="1" stop-color="#2f2fe6"/></linearGradient>
<linearGradient id="gBody" x1="0" y1="0" x2="0" y2="1"><stop offset="0" stop-color="#3a36e8"/><stop offset="1" stop-color="#0000a8"/></linearGradient>
<linearGradient id="gBtn" x1="0" y1="0" x2="0" y2="1"><stop offset="0" stop-color="#f2f2f2"/><stop offset="0.45" stop-color="#e4e4e4"/><stop offset="0.5" stop-color="#d4d4d4"/><stop offset="1" stop-color="#cfcfcf"/></linearGradient>
</defs>
<g shape-rendering="crispEdges">
<rect x="1" y="48" width="52" height="24" fill="url(#gTab)" />
<rect x="1" y="72" width="109" height="40" fill="url(#gBody)" />
<rect x="168" y="48" width="52" height="24" fill="url(#gTab)" />
<rect x="112" y="72" width="108" height="40" fill="url(#gBody)" />
<rect x="1" y="48" width="52" height="1" fill="#1010c0" />
<rect x="168" y="48" width="52" height="1" fill="#1010c0" />
<rect x="5" y="71" width="44" height="1" fill="#1a1aa0" />
<rect x="5" y="72" width="44" height="1" fill="#7a7aff" />
<rect x="172" y="71" width="44" height="1" fill="#1a1aa0" />
<rect x="172" y="72" width="44" height="1" fill="#7a7aff" />
<rect x="55" y="48" width="111" height="22" fill="#b4b4b4" />
<rect x="56" y="49" width="109" height="20" fill="#fff" />
<rect x="57" y="50" width="19" height="18" fill="url(#gBtn)" />
<rect x="76" y="49" width="1" height="20" fill="#b4b4b4" />
<rect x="146" y="50" width="19" height="18" fill="url(#gBtn)" />
<rect x="145" y="49" width="1" height="20" fill="#b4b4b4" />
</g>
<polygon points="63,57 69,57 66,60" fill="#5060b0"/>
<polygon points="152,61 158,61 155,58" fill="#5060b0"/>
<text x="14" y="64" font-size="12.5" fill="#eeeeff" text-anchor="start" font-weight="normal" textLength="25" lengthAdjust="spacingAndGlyphs" >SELL</text>
<text x="182" y="64" font-size="12.5" fill="#eeeeff" text-anchor="start" font-weight="normal" textLength="23" lengthAdjust="spacingAndGlyphs" >BUY</text>
<text x="141" y="63" font-size="12.5" fill="#000" text-anchor="end" font-weight="normal" textLength="23" lengthAdjust="spacingAndGlyphs" >1.00</text>
<text x="22" y="103" font-size="12.5" fill="#fff" text-anchor="start" font-weight="bold" textLength="23" lengthAdjust="spacingAndGlyphs" >1.24</text>
<text x="49" y="103" font-size="35" fill="#fff" text-anchor="start" font-weight="normal" textLength="34" lengthAdjust="spacingAndGlyphs" >66</text>
<text x="89" y="87" font-size="11.5" fill="#fff" text-anchor="start" font-weight="bold" stroke="#fff" stroke-width="0.25" >3</text>
<text x="131" y="103" font-size="12.5" fill="#fff" text-anchor="start" font-weight="bold" textLength="23" lengthAdjust="spacingAndGlyphs" >1.24</text>
<text x="159" y="103" font-size="35" fill="#fff" text-anchor="start" font-weight="normal" textLength="35" lengthAdjust="spacingAndGlyphs" >71</text>
<text x="199" y="87" font-size="11.5" fill="#fff" text-anchor="start" font-weight="bold" stroke="#fff" stroke-width="0.25" >0</text>
<path d="M167.5 81.5 l2 2 l-2 2 l-2 -2 z" fill="none" stroke="#e8d000" stroke-width="0.8"/>
<g id="toolbar">
<rect x="0" y="0" width="1736" height="23" fill="#f0f0f0"/>
<g shape-rendering="crispEdges">
<rect x="0" y="23" width="1736" height="1" fill="#f5f5f5"/>
<rect x="0" y="24" width="1736" height="1" fill="#a0a0a0"/>
<rect x="0" y="25" width="1736" height="1" fill="#696969"/>
<rect x="50" y="1" width="1" height="21" fill="#a8a8a8"/>
<rect x="381" y="1" width="1" height="21" fill="#a8a8a8"/>
<rect x="471" y="1" width="1" height="21" fill="#a8a8a8"/>
<rect x="533" y="1" width="1" height="21" fill="#a8a8a8"/>
<rect x="721" y="1" width="1" height="21" fill="#a8a8a8"/>
<rect x="286" y="0" width="1" height="24" fill="#8c8c8c"/><rect x="287" y="0" width="1" height="24" fill="#fbfbfb"/>
<rect x="654" y="0" width="1" height="24" fill="#8c8c8c"/><rect x="655" y="0" width="1" height="24" fill="#fbfbfb"/>
<rect x="960" y="0" width="1" height="24" fill="#8c8c8c"/><rect x="961" y="0" width="1" height="24" fill="#fbfbfb"/>
<rect x="1221" y="0" width="1" height="24" fill="#8c8c8c"/><rect x="1222" y="0" width="1" height="24" fill="#fbfbfb"/>
<rect x="290" y="2" width="4" height="1" fill="#a0a0a0"/>
<rect x="290" y="4" width="4" height="1" fill="#a0a0a0"/>
<rect x="290" y="6" width="4" height="1" fill="#a0a0a0"/>
<rect x="290" y="8" width="4" height="1" fill="#a0a0a0"/>
<rect x="290" y="10" width="4" height="1" fill="#a0a0a0"/>
<rect x="290" y="12" width="4" height="1" fill="#a0a0a0"/>
<rect x="290" y="14" width="4" height="1" fill="#a0a0a0"/>
<rect x="290" y="16" width="4" height="1" fill="#a0a0a0"/>
<rect x="290" y="18" width="4" height="1" fill="#a0a0a0"/>
<rect x="290" y="20" width="4" height="1" fill="#a0a0a0"/>
<rect x="658" y="2" width="4" height="1" fill="#a0a0a0"/>
<rect x="658" y="4" width="4" height="1" fill="#a0a0a0"/>
<rect x="658" y="6" width="4" height="1" fill="#a0a0a0"/>
<rect x="658" y="8" width="4" height="1" fill="#a0a0a0"/>
<rect x="658" y="10" width="4" height="1" fill="#a0a0a0"/>
<rect x="658" y="12" width="4" height="1" fill="#a0a0a0"/>
<rect x="658" y="14" width="4" height="1" fill="#a0a0a0"/>
<rect x="658" y="16" width="4" height="1" fill="#a0a0a0"/>
<rect x="658" y="18" width="4" height="1" fill="#a0a0a0"/>
<rect x="658" y="20" width="4" height="1" fill="#a0a0a0"/>
<rect x="963" y="2" width="4" height="1" fill="#a0a0a0"/>
<rect x="963" y="4" width="4" height="1" fill="#a0a0a0"/>
<rect x="963" y="6" width="4" height="1" fill="#a0a0a0"/>
<rect x="963" y="8" width="4" height="1" fill="#a0a0a0"/>
<rect x="963" y="10" width="4" height="1" fill="#a0a0a0"/>
<rect x="963" y="12" width="4" height="1" fill="#a0a0a0"/>
<rect x="963" y="14" width="4" height="1" fill="#a0a0a0"/>
<rect x="963" y="16" width="4" height="1" fill="#a0a0a0"/>
<rect x="963" y="18" width="4" height="1" fill="#a0a0a0"/>
<rect x="963" y="20" width="4" height="1" fill="#a0a0a0"/>
<rect x="324" y="0" width="25" height="22" fill="#f7f7f7"/>
<rect x="324" y="0" width="25" height="1" fill="#8c8c8c"/>
<rect x="324" y="0" width="1" height="22" fill="#8c8c8c"/>
<rect x="476" y="0" width="25" height="22" fill="#f7f7f7"/>
<rect x="476" y="0" width="25" height="1" fill="#8c8c8c"/>
<rect x="476" y="0" width="1" height="22" fill="#8c8c8c"/>
<rect x="504" y="0" width="25" height="22" fill="#f7f7f7"/>
<rect x="504" y="0" width="25" height="1" fill="#8c8c8c"/>
<rect x="504" y="0" width="1" height="22" fill="#8c8c8c"/>
<rect x="664" y="0" width="25" height="22" fill="#f7f7f7"/>
<rect x="664" y="0" width="25" height="1" fill="#8c8c8c"/>
<rect x="664" y="0" width="1" height="22" fill="#8c8c8c"/>
<rect x="1138" y="0" width="25" height="22" fill="#f7f7f7"/>
<rect x="1138" y="0" width="25" height="1" fill="#8c8c8c"/>
<rect x="1138" y="0" width="1" height="22" fill="#8c8c8c"/>
</g>
<rect x="0.5" y="5.5" width="12" height="13" fill="#fff" stroke="#3c78d0" rx="1"/>
<rect x="2" y="7.5" width="1.5" height="1.5" fill="#e02020"/><rect x="4.5" y="7.8" width="7" height="1" fill="#9ab8e8"/>
<rect x="2" y="10.1" width="1.5" height="1.5" fill="#202020"/><rect x="4.5" y="10.4" width="7" height="1" fill="#9ab8e8"/>
<rect x="2" y="12.7" width="1.5" height="1.5" fill="#202020"/><rect x="4.5" y="13.0" width="7" height="1" fill="#9ab8e8"/>
<rect x="2" y="15.3" width="1.5" height="1.5" fill="#e02020"/><rect x="4.5" y="15.6" width="7" height="1" fill="#9ab8e8"/>
<rect x="25.5" y="4.5" width="12" height="13" fill="#f4f4f4" stroke="#b0a890"/>
<circle cx="33" cy="12" r="5" fill="#cfe0f4" stroke="#6f9fd8" stroke-width="1.2"/>
<line x1="36.5" y1="15.5" x2="42" y2="21" stroke="#c89a20" stroke-width="2.2"/>
<path d="M29 8 v7 M31 7 v3" stroke="#8aa0b8" stroke-width="1"/>
<path d="M60.5 4.5 h7 l3 3 v10 h-10 z" fill="#fff" stroke="#606060"/>
<path d="M62 10.5 h5 M62 12.5 h6 M62 8.5 h3" stroke="#909090" stroke-width="1"/>
<path d="M68 10 h3 v4 h4 v3 h-4 v4 h-3 v-4 h-4 v-3 h4 z" fill="#22c020" stroke="#108010" stroke-width="0.8"/>
<text x="78.5" y="16" font-size="12" fill="#000" font-family="'Liberation Sans','Noto Sans CJK SC',sans-serif" textLength="36" lengthAdjust="spacingAndGlyphs">新订单</text>
<path d="M127 14 l1 2.5 l8 4.5 l6.5 -8 l-0.5 -2 z" fill="#9a6a10"/>
<path d="M127 14 l5.5 -8.5 l9.5 5.5 l-6 8.5 z" fill="#f0cc50" stroke="#b88a20" stroke-width="0.8"/>
<path d="M130 12 l3.5 -5 l6 3.5" fill="none" stroke="#fff0a0" stroke-width="1"/>
<path d="M158 4 h10 v11 h-10 z" fill="#3a8ee8" stroke="#1a5cb0" stroke-width="0.8"/>
<rect x="160" y="6" width="6" height="2" fill="#cfe6ff"/>
<path d="M156.5 19.5 a3 3 0 0 1 1.5 -5 a3.5 3.5 0 0 1 6 -1.5 a3 3 0 0 1 5 2 a2.5 2.5 0 0 1 0.5 4.5 z" fill="#eef2f8" stroke="#6f88b8"/>
<circle cx="191" cy="12" r="7.5" fill="none" stroke="#a8c4ec" stroke-width="1.2"/>
<circle cx="191" cy="12" r="5" fill="none" stroke="#7aa6e4" stroke-width="1.2"/>
<circle cx="191" cy="12" r="2.8" fill="none" stroke="#4a86dc" stroke-width="1.2"/>
<circle cx="191" cy="12" r="1.6" fill="#2060d0"/>
<path d="M191 12 v8 a8 8 0 0 0 7 -6" fill="none" stroke="#28a428" stroke-width="1.6"/>
<ellipse cx="217.5" cy="8" rx="8" ry="3.5" fill="#5aa8e0" stroke="#3a7cc0"/>
<ellipse cx="217.5" cy="6" rx="4" ry="3" fill="#7cc0f0"/>
<path d="M211 11 l6 8 l6 -8 z" fill="#f0d040" stroke="#c0a020"/>
<circle cx="222" cy="16" r="4" fill="#d02010"/><rect x="220.3" y="14.3" width="3.4" height="3.4" fill="#fff"/>
<text x="231.5" y="16" font-size="12" fill="#000" font-family="'Liberation Sans','Noto Sans CJK SC',sans-serif" textLength="46" lengthAdjust="spacingAndGlyphs">自动交易</text>
<path d="M304.5 6 v14 M302 17.5 h13" stroke="#404040" stroke-width="1" fill="none"/>
<path d="M302.5 8 l2 -2.5 l2 2.5 M313 15.5 l2.5 2 l-2.5 2" stroke="#404040" stroke-width="1" fill="none"/>
<path d="M309.5 15 v-7 M307 14.5 h2.5 M309.5 8.5 h3" stroke="#20a020" stroke-width="1.4" fill="none"/>
<path d="M332.5 6 v14 M330 17.5 h13" stroke="#404040" stroke-width="1" fill="none"/>
<path d="M330.5 8 l2 -2.5 l2 2.5 M341 15.5 l2.5 2 l-2.5 2" stroke="#404040" stroke-width="1" fill="none"/>
<path d="M338.5 4 v12" stroke="#108010" stroke-width="1.2"/><rect x="336" y="6.5" width="5" height="7" fill="#20d040" stroke="#108010" stroke-width="0.8"/>
<path d="M360.5 6 v14 M358 17.5 h13" stroke="#404040" stroke-width="1" fill="none"/>
<path d="M358.5 8 l2 -2.5 l2 2.5 M369 15.5 l2.5 2 l-2.5 2" stroke="#404040" stroke-width="1" fill="none"/>
<path d="M361 14 q4 -6 7 -5 q2 1 3.5 3" stroke="#20a020" stroke-width="1.2" fill="none"/>
<circle cx="395" cy="10" r="5.5" fill="#d8ecff" stroke="#3a7cd0" stroke-width="1.3"/>
<line x1="399" y1="14" x2="404" y2="19" stroke="#c8a010" stroke-width="2.5"/>
<rect x="392" y="9.3" width="6" height="1.6" fill="#3a6ab0"/>
<rect x="394.2" y="7" width="1.6" height="6" fill="#3a6ab0"/>
<circle cx="423" cy="10" r="5.5" fill="#d8ecff" stroke="#3a7cd0" stroke-width="1.3"/>
<line x1="427" y1="14" x2="432" y2="19" stroke="#c8a010" stroke-width="2.5"/>
<rect x="420" y="9.3" width="6" height="1.6" fill="#3a6ab0"/>
<rect x="446" y="4" width="7.5" height="7.5" fill="#34a020"/><rect x="447.5" y="7" width="4.5" height="2" fill="#e8f0ff"/>
<rect x="454.5" y="4" width="7.5" height="7.5" fill="#2a5ed8"/><rect x="456.0" y="7" width="4.5" height="2" fill="#e8f0ff"/>
<rect x="446" y="12.5" width="7.5" height="7.5" fill="#2a5ed8"/><rect x="447.5" y="15.5" width="4.5" height="2" fill="#e8f0ff"/>
<rect x="454.5" y="12.5" width="7.5" height="7.5" fill="#34a020"/><rect x="456.0" y="15.5" width="4.5" height="2" fill="#e8f0ff"/>
<path d="M484.5 6 v14 M482 17.5 h13" stroke="#404040" stroke-width="1" fill="none"/>
<path d="M482.5 8 l2 -2.5 l2 2.5 M493 15.5 l2.5 2 l-2.5 2" stroke="#404040" stroke-width="1" fill="none"/>
<path d="M489.5 8 v6 l3.5 -3 z" fill="#20b020" stroke="#108010" stroke-width="0.6"/>
<path d="M512.5 6 v14 M510 17.5 h13" stroke="#404040" stroke-width="1" fill="none"/>
<path d="M510.5 8 l2 -2.5 l2 2.5 M521 15.5 l2.5 2 l-2.5 2" stroke="#404040" stroke-width="1" fill="none"/>
<path d="M517.5 6 v9" stroke="#1a6ab0" stroke-width="1.2"/><path d="M518.5 11 l4 -2.5 v5 z" fill="#e04010"/><path d="M520 11 h3" stroke="#e04010"/>
<path d="M543.5 4.5 h8 l3 3 v10 h-11 z" fill="#fff" stroke="#606060"/>
<path d="M547 9 v6" stroke="#606060"/>
<path d="M550 10 h3 v4 h4 v3 h-4 v4 h-3 v-4 h-4 v-3 h4 z" fill="#22c020" stroke="#108010" stroke-width="0.8"/>
<polygon points="564.5,11 570.5,11 567.5,14" fill="#000"/>
<polygon points="603,11 609,11 606,14" fill="#000"/>
<polygon points="642,11 648,11 645,14" fill="#000"/>
<polygon points="948,11 954,11 951,14" fill="#000"/>
<circle cx="589" cy="12" r="7.5" fill="#1a6ad8"/><circle cx="589" cy="11.5" r="5.6" fill="#fff"/>
<path d="M589 8 v4 h3" stroke="#202020" stroke-width="1.2" fill="none"/>
<rect x="620.5" y="5.5" width="15" height="13" fill="#fff" stroke="#2a6ad0"/>
<rect x="621" y="6" width="14" height="1.5" fill="#9cc0f0"/><rect x="621" y="12" width="14" height="1" fill="#2a6ad0"/>
<path d="M622 11 l3 -1 l3 0.5 l3 -1.5 l3 0.5" stroke="#b02010" stroke-width="1" fill="none"/>
<path d="M622 16.5 l3 -1 l3 1 l3 -2.5 l3 2" stroke="#20a020" stroke-width="1" fill="none"/>
<path d="M672 5 l0 12 l3 -3 l2.5 5 l2 -1 l-2.5 -4.5 l4 0 z" fill="#404040"/>
<path d="M704.5 5 v15 M696 12.5 h16" stroke="#404040" stroke-width="1"/>
<path d="M738.5 6 v13" stroke="#404040" stroke-width="1.2"/>
<path d="M761 12.5 h12" stroke="#404040" stroke-width="1.2"/>
<path d="M789 19 l12 -12" stroke="#404040" stroke-width="1.2"/>
<path d="M815 14 l10 -9 M817 18 l10 -9" stroke="#404040" stroke-width="1.2"/><path d="M816 12 l1 2 M819 9 l1 2 M822 7 l1 2" stroke="#404040"/>
<text x="825" y="21" font-size="6.5" font-weight="bold" fill="#404040">E</text>
<path d="M844 5.5 h13" stroke="#404040" stroke-width="1" stroke-dasharray="1,1"/>
<path d="M844 8.5 h13" stroke="#404040" stroke-width="1" stroke-dasharray="1,1"/>
<path d="M844 12.5 h13" stroke="#404040" stroke-width="1" stroke-dasharray="1,1"/>
<path d="M844 16.5 h13" stroke="#404040" stroke-width="1" stroke-dasharray="1,1"/>
<text x="853" y="21" font-size="6.5" font-weight="bold" fill="#404040">F</text>
<text x="875" y="17" font-size="11" font-weight="bold" fill="#505050">A</text>
<rect x="901.5" y="6.5" width="11" height="12" fill="none" stroke="#404040" stroke-dasharray="1,1"/>
<text x="903.5" y="16.5" font-size="10.5" font-weight="bold" fill="#404040">T</text>
<path d="M928 9 l3 -3 l3 3 l-3 2 z M936 16 l3 -2 l3 2 l-3 3 z" fill="#404040"/><path d="M930 12 l3 3 l4 -5" stroke="#404040" stroke-width="1.2" fill="none"/>
<text x="975" y="16" font-size="9.3" fill="#333" stroke="#333" stroke-width="0.2">M1</text>
<text x="1004" y="16" font-size="9.3" fill="#333" stroke="#333" stroke-width="0.2">M5</text>
<text x="1030" y="16" font-size="9.3" fill="#333" stroke="#333" stroke-width="0.2">M15</text>
<text x="1058" y="16" font-size="9.3" fill="#333" stroke="#333" stroke-width="0.2">M30</text>
<text x="1088" y="16" font-size="9.3" fill="#333" stroke="#333" stroke-width="0.2">H1</text>
<text x="1115" y="16" font-size="9.3" fill="#333" stroke="#333" stroke-width="0.2">H4</text>
<text x="1145" y="16" font-size="9.3" fill="#333" stroke="#333" stroke-width="0.2">D1</text>
<text x="1172" y="16" font-size="9.3" fill="#333" stroke="#333" stroke-width="0.2">W1</text>
<text x="1198" y="16" font-size="9.3" fill="#333" stroke="#333" stroke-width="0.2">MN</text>
<circle cx="1691" cy="9.5" r="3.8" fill="none" stroke="#2060d0" stroke-width="1.4"/>
<line x1="1688" y1="12.5" x2="1684" y2="16.5" stroke="#2060d0" stroke-width="2.4"/>
<ellipse cx="1726" cy="9" rx="5" ry="4" fill="#f4f4f8" stroke="#909090"/>
<path d="M1725 12.5 l2.5 3 l0 -3" fill="#909090"/>
<ellipse cx="1716" cy="13" rx="5" ry="3.6" fill="#f4f4f8" stroke="#909090"/>
<path d="M1713 16 l-1 3 l3 -3" fill="#909090"/>
</g>
</svg>
</body></html>
